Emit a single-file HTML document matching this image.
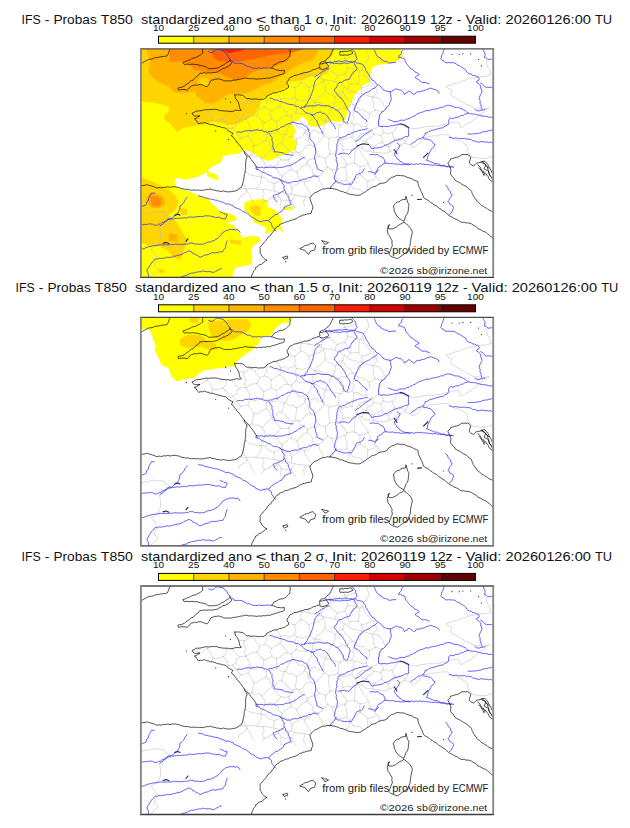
<!DOCTYPE html><html><head><meta charset="utf-8"><style>html,body{margin:0;padding:0;background:#fff;overflow:hidden}svg{display:block}</style></head><body>
<svg width="630" height="828" viewBox="0 0 630 828">
<defs>
<clipPath id="fc"><rect x="140.9" y="48.8" width="352.3" height="228.3"/></clipPath>
<g id="maplines" fill="none" stroke-linejoin="round" stroke-linecap="round"><g stroke="#bcbcbc" stroke-width="0.55"><polyline points="207.5,111.4 206.2,111.7 205.2,112.4 204.2,113.2 203.4,114.1 202.3,114.7 201.3,115.4 200.4,116.3 199.3,116.9 198.1,117.3 197.4,118.4 196.7,119.5 195.9,120.5"/><polyline points="207.5,111.4 208.4,112.4 209.2,113.5 210.1,114.4 210.5,115.7 210.9,117.0 211.9,118.0 212.2,119.2 212.4,120.6"/><polyline points="207.6,109.7 207.5,111.4"/><polyline points="212.4,120.6 212.5,122.0 211.6,123.2 211.6,124.5"/><polyline points="223.3,119.4 222.0,119.4 221.0,120.2 219.8,120.4 218.5,120.4 217.4,121.2 216.2,121.3 214.9,121.2 213.7,120.7 212.4,120.6"/><polyline points="223.3,119.4 223.9,120.8 225.5,121.0 225.8,122.6 227.1,123.2 227.3,124.5 227.6,125.8 228.7,126.8 228.7,128.2"/><polyline points="223.3,119.4 224.3,118.3 225.1,117.0 226.1,115.8 226.0,114.3 226.2,112.8 226.8,111.3"/><polyline points="228.7,128.2 227.4,129.7"/><polyline points="228.7,128.2 230.1,128.5 231.4,128.5 232.6,127.8"/><polyline points="231.2,111.4 232.1,112.4 233.3,113.1 234.3,114.0 235.1,115.1 235.8,116.3 236.7,117.4 237.9,118.1 238.8,119.2 240.0,119.8"/><polyline points="240.7,137.6 239.5,136.8 239.2,135.1 237.8,134.5 236.6,133.6 236.4,132.0 235.3,131.1 234.6,129.9 233.4,129.0 232.6,127.8"/><polyline points="232.6,127.8 233.6,127.0 234.8,126.5 236.1,126.0 236.4,124.6 236.5,123.1 236.6,121.6 237.9,121.2 239.1,120.8 240.0,119.8"/><polyline points="237.5,142.5 237.8,141.0 239.2,140.1 239.8,138.7 240.7,137.6"/><polyline points="244.1,103.5 242.7,103.1 241.3,103.2 239.9,103.3 238.5,103.0"/><polyline points="240.0,119.8 241.2,119.0 242.4,119.2 243.7,119.2 244.9,118.9 246.1,119.0"/><polyline points="247.9,136.0 246.7,136.2 245.6,136.9 244.4,137.1 243.1,136.8 241.9,137.6 240.7,137.6"/><polyline points="246.1,188.8 245.4,187.8 244.7,186.8 244.5,185.4 243.5,184.6 242.7,183.6"/><polyline points="244.1,103.5 244.2,104.9 243.1,106.1 243.3,107.6 244.8,108.4 245.1,110.2 246.5,111.1 245.6,112.4 244.9,113.8 244.3,115.3 245.1,116.5 245.7,117.7 246.1,119.0"/><polyline points="249.8,98.9 249.4,100.2 248.1,100.9 247.5,102.0 246.4,102.7 245.4,103.5 244.1,103.5"/><polyline points="261.3,176.9 259.8,176.8 258.4,176.2 256.9,176.6 255.6,176.1 254.3,175.6 252.8,175.4 251.3,175.5 250.2,174.4 248.7,174.2 247.6,173.2 246.4,172.4 244.9,172.2"/><polyline points="246.2,119.0 246.1,119.0"/><polyline points="250.7,130.7 250.9,129.2 249.6,128.1 249.7,126.6 249.5,125.2 248.8,124.0 248.0,122.8 247.6,121.4 246.6,120.3 246.2,119.0"/><polyline points="246.2,119.0 247.4,118.3 248.1,117.2 249.3,116.5 250.7,116.6 251.6,115.3 253.0,115.3 254.3,115.5 255.6,114.9 256.9,114.8"/><polyline points="251.9,154.9 250.8,155.6 249.5,156.2 248.2,156.7 246.9,157.0"/><polyline points="247.9,136.0 248.9,136.8 248.9,138.3 250.1,139.0 251.0,139.9 251.5,141.1 252.4,142.0 252.6,143.2 253.4,144.3 253.7,145.6"/><polyline points="247.9,136.0 249.0,134.9 249.1,133.2 249.6,131.9 250.7,130.7"/><polyline points="249.9,98.9 251.2,99.1 251.9,100.3 252.9,100.9 254.0,101.5 255.4,102.4 255.4,104.4 256.7,105.3 257.4,106.8 258.4,107.9 259.4,109.2"/><polyline points="250.7,130.7 252.1,130.7 253.3,131.8 254.7,131.8 256.2,131.9 257.2,130.4 258.7,130.5 260.0,130.4 261.3,130.0 262.7,130.2"/><polyline points="261.7,158.8 261.0,157.7 259.6,157.5 258.9,156.4 257.5,156.5 256.1,156.7 254.8,157.2 254.0,156.2 252.5,156.1 251.9,154.9"/><polyline points="253.7,145.6 253.8,147.2 253.5,148.8 252.8,150.2 252.9,151.9 252.6,153.4 251.9,154.9"/><polyline points="253.7,145.6 255.1,145.0 256.7,145.0 258.3,144.7 259.2,143.4 260.5,142.5 261.9,141.9 263.3,141.3 264.7,140.7 265.9,139.8"/><polyline points="256.6,189.0 257.7,188.0 258.2,186.7 258.5,185.2 259.3,184.0 260.4,183.0 261.0,181.7 260.8,180.1 261.7,178.7 261.4,177.2"/><polyline points="264.0,122.6 263.3,121.3 261.6,121.3 261.2,119.7 259.9,119.2 259.2,118.1 258.7,116.8 257.7,115.9 256.9,114.8"/><polyline points="256.9,114.8 257.8,113.9 258.1,112.7 258.5,111.5 259.4,110.5 259.4,109.2"/><polyline points="264.3,107.2 263.2,108.1 261.6,107.7 260.6,108.7 259.4,109.2"/><polyline points="261.4,177.2 261.3,176.9"/><polyline points="265.2,167.5 264.4,168.5 264.1,169.8 263.3,170.8 262.7,172.0 261.8,173.0 262.0,174.4 261.1,175.5 261.3,176.9"/><polyline points="261.4,177.2 262.6,177.2 263.9,177.0 265.2,177.6 265.7,178.8 266.5,179.8 267.6,180.7 269.1,181.5 270.6,182.6 272.4,182.7 274.0,183.8"/><polyline points="265.2,167.5 265.2,165.9 265.0,164.3 264.3,162.8 263.8,161.3 262.3,160.3 261.7,158.8"/><polyline points="272.3,149.3 270.9,150.4 269.4,151.4 268.1,152.6 267.0,154.1 265.4,155.0 264.5,156.6 263.1,157.8 261.7,158.8"/><polyline points="266.3,134.5 265.3,133.5 264.6,132.3 263.7,131.2 262.7,130.2"/><polyline points="264.0,122.6 263.7,123.8 263.5,125.1 263.6,126.4 263.0,127.6 263.4,129.1 262.7,130.2"/><polyline points="264.0,122.6 265.3,122.0 266.8,122.0 268.0,121.1 269.3,120.4 270.6,119.9 271.7,118.8"/><polyline points="271.2,111.0 270.0,110.4 268.9,109.6 268.2,108.3 267.0,107.7 265.4,108.1 264.3,107.2"/><polyline points="264.3,107.2 264.9,106.0 265.9,105.0 266.5,103.7 266.2,102.3 266.9,101.1 266.9,99.7 267.6,98.5 266.7,97.0 267.4,95.7"/><polyline points="274.7,167.0 273.4,167.0 272.2,166.7 271.2,165.8 269.9,166.0 268.6,166.1 267.6,166.9 266.2,166.6 265.2,167.5"/><polyline points="265.9,139.8 267.0,140.5 267.8,141.7 269.1,142.0 269.9,143.3 269.8,144.7 269.8,146.1 270.7,147.0 271.9,147.6 272.3,148.9"/><polyline points="265.9,139.8 266.2,138.5 266.5,137.2 266.7,135.8 266.3,134.5"/><polyline points="277.3,130.9 275.9,131.1 275.3,132.8 273.9,133.0 272.6,132.9 271.3,133.5 270.0,133.3 268.6,133.2 267.5,134.0 266.3,134.5"/><polyline points="271.2,111.0 271.5,112.4 270.5,113.6 270.3,115.0 270.9,116.2 271.7,117.4 271.7,118.8"/><polyline points="271.2,111.0 272.4,110.6 273.4,109.8 274.4,109.2 275.4,108.5 276.4,107.7 277.7,107.4 278.7,106.8 279.9,106.4"/><polyline points="271.7,118.8 272.6,119.9 273.8,120.6 275.3,120.8 276.5,121.6"/><polyline points="280.5,159.5 279.7,158.3 278.3,157.5 277.8,156.1 277.1,154.7 275.6,154.1 274.6,153.0 273.3,152.1 272.8,150.6 272.3,149.3"/><polyline points="272.3,149.3 272.3,148.9"/><polyline points="281.7,143.6 280.5,143.9 279.1,143.4 278.0,144.2 276.9,145.1 276.6,146.5 275.7,147.6 274.7,148.4 273.5,148.5 272.3,148.9"/><polyline points="274.0,183.8 273.7,185.1 274.3,186.2 274.6,187.5 274.0,188.7 273.9,190.0 274.5,191.2"/><polyline points="274.0,183.8 275.0,183.2 276.1,182.6 277.3,182.3 278.4,181.8 279.4,181.0 280.4,180.2 281.1,179.3 281.7,178.1"/><polyline points="274.7,167.0 275.7,167.9 276.3,169.1 277.5,169.8 278.6,170.9 278.2,172.5 279.1,173.7 279.9,174.7 281.4,175.1 282.1,176.4"/><polyline points="280.5,159.5 280.1,160.7 279.3,161.6 278.3,162.4 278.1,163.7 276.9,164.1 276.3,165.3 275.8,166.5 274.7,167.0"/><polyline points="280.3,99.2 280.3,97.7 278.8,96.6 278.7,95.1 277.6,94.1 276.3,93.2 275.0,92.6"/><polyline points="277.3,130.9 277.6,129.4 276.7,127.8 277.3,126.2 276.8,124.7 276.6,123.2 276.5,121.6"/><polyline points="276.5,121.6 277.7,120.8 279.0,120.1 280.5,119.9 281.1,118.4 282.5,117.6 283.6,116.5 284.9,115.8 286.5,115.8 287.9,115.5"/><polyline points="283.9,134.6 282.8,133.9 281.3,134.3 280.2,133.5 279.4,132.4 278.4,131.6 277.3,130.9"/><polyline points="279.9,106.4 281.1,107.1 282.2,107.9 283.3,108.8 283.8,110.0 285.2,110.8 285.5,112.2 286.6,113.1 286.9,114.5 287.9,115.5"/><polyline points="280.3,99.2 280.2,100.6 281.1,101.6 281.2,102.9 281.3,104.2 280.0,105.1 279.9,106.4"/><polyline points="280.3,99.2 281.6,99.3 282.7,98.9 283.7,98.1 285.2,98.2 286.5,98.7 287.5,99.8 289.3,99.4 291.0,99.2 292.1,98.6 293.3,98.1 294.4,97.6"/><polyline points="280.5,159.5 281.9,160.0 283.2,160.0 284.6,159.8 286.1,160.2 287.4,159.8 288.8,159.5"/><polyline points="281.7,178.1 282.3,179.2 282.5,180.5 283.5,181.4 284.9,181.6 286.3,181.6 287.6,182.3 289.2,183.2 290.3,184.7 291.1,185.7 291.0,187.2 291.9,188.2"/><polyline points="282.1,176.4 281.7,178.1"/><polyline points="281.7,143.6 282.6,144.5 283.6,145.3 284.9,145.6 285.8,146.6 286.5,147.8 286.9,149.1 288.0,149.7 289.1,150.4 289.7,151.7 290.7,152.6 292.3,152.3 293.4,153.1"/><polyline points="281.7,143.6 281.9,142.0 282.7,140.6 283.1,139.2 283.3,137.6 283.9,136.2 283.9,134.6"/><polyline points="282.1,176.4 282.6,175.1 283.7,174.2 284.7,173.4 286.0,173.0 287.2,172.4 287.9,171.3 288.8,170.1 290.5,170.4 291.4,169.4"/><polyline points="283.9,134.6 285.2,134.1"/><polyline points="296.3,139.1 295.0,138.7 294.3,137.2 292.9,136.8 291.4,137.2 289.9,136.3 288.4,136.8 287.4,135.9 286.7,134.5 285.2,134.1"/><polyline points="285.2,134.1 286.2,132.8 286.8,131.4 287.7,130.1 287.7,128.4 289.0,127.2 289.2,125.6 290.6,124.8 291.8,123.7 292.5,122.2"/><polyline points="287.9,84.8 289.0,85.4 290.3,85.6 291.2,86.5 292.2,87.4 293.5,87.4 294.7,87.5"/><polyline points="287.9,115.5 289.6,116.2 291.3,116.4"/><polyline points="288.8,159.5 288.6,160.8 289.4,162.0 289.8,163.2 289.6,164.6 289.5,166.0 291.0,166.8 291.2,168.1 291.4,169.4"/><polyline points="293.4,153.1 293.1,154.5 292.0,155.4 291.1,156.3 290.0,157.1 289.4,158.3 288.8,159.5"/><polyline points="291.9,188.2 291.6,189.4 292.1,190.7 291.4,191.8 291.5,193.1 290.8,194.2"/><polyline points="291.3,116.4 291.7,117.8 292.0,119.3 292.3,120.7 292.5,122.2"/><polyline points="291.3,116.4 292.1,115.5 293.3,115.1 294.0,114.0 295.2,113.6 295.8,112.4"/><polyline points="291.4,169.4 292.6,169.8 293.9,170.1 294.9,170.9 295.8,172.0 297.2,172.2"/><polyline points="291.9,188.2 292.9,187.4 293.4,186.2 294.5,185.5 295.5,184.6 296.7,184.1 298.1,184.0 298.8,182.9 299.7,182.1 300.3,180.9"/><polyline points="292.5,122.2 293.5,123.1 295.0,123.0 296.0,123.9 296.2,125.5 297.9,126.2 298.2,127.7 299.8,128.2 301.3,127.6 302.9,127.8 303.9,128.7 305.0,129.7 305.4,131.1"/><polyline points="293.4,153.1 294.6,152.2 296.2,152.0"/><polyline points="294.4,97.6 295.5,98.6 296.4,99.8"/><polyline points="294.4,97.6 295.3,96.5 294.6,95.0 295.5,93.9 295.8,92.6 295.0,91.4 294.8,90.1 295.1,88.7 294.7,87.5"/><polyline points="294.7,87.5 296.1,87.1 297.2,86.3 298.0,85.1 298.8,83.9 300.2,83.5 301.2,82.6"/><polyline points="295.8,112.4 297.1,112.8 298.3,113.3 299.6,113.7 300.9,113.7 302.2,114.0 303.5,114.0 304.8,114.4 306.1,113.7 307.4,113.8 308.7,113.8 310.0,113.9 311.3,114.1"/><polyline points="296.4,99.8 296.1,101.2 295.3,102.5 295.2,104.0 295.8,105.4 295.8,107.0 296.7,108.3 296.4,109.6 296.6,111.1 295.8,112.4"/><polyline points="296.2,152.0 297.4,152.1 298.6,152.5"/><polyline points="296.2,152.0 295.7,150.6 295.3,149.1 295.2,147.7 295.9,146.3 296.3,144.9 296.1,143.4 296.5,142.0 296.6,140.6 296.3,139.1"/><polyline points="296.3,139.1 297.4,138.3 298.8,138.7 299.9,137.8 300.6,136.8 301.6,136.2 302.8,135.7 303.8,134.8 303.9,133.4 304.9,132.6"/><polyline points="296.4,99.8 298.0,99.5 299.4,100.5 301.0,100.6 302.6,100.9 304.0,100.2 305.5,100.0 306.9,99.4 308.4,98.9 309.8,98.2"/><polyline points="297.2,172.2 297.6,173.7 297.9,175.2 298.6,176.6 298.6,178.2 300.2,179.3 300.3,180.9"/><polyline points="297.2,172.2 297.7,170.8 298.8,169.8 300.0,169.0 301.3,168.2 301.8,166.7 302.9,165.8 304.4,165.4 305.6,164.6 307.1,164.2"/><polyline points="298.6,152.5 299.3,153.8 300.0,155.2 300.5,156.6 301.8,156.7 303.0,157.0 304.0,157.7 305.1,158.3 306.2,159.3 307.1,160.5 307.4,162.0"/><polyline points="298.6,152.5 299.8,152.3 300.9,151.8 302.1,151.5 303.0,150.6 303.4,149.3 304.3,148.4 304.8,147.2 306.1,146.7 306.8,145.7 308.0,145.3 309.3,145.6 310.5,145.0"/><polyline points="300.3,180.9 301.7,181.1 303.1,181.4 304.4,182.1"/><polyline points="301.2,82.6 302.4,82.8 303.5,83.2 304.5,84.0 305.6,84.5 306.6,85.2 307.0,86.6 308.5,86.7 309.1,87.8"/><polyline points="301.6,74.8 301.3,76.2 300.7,77.4 300.2,78.6 300.0,80.1 300.5,81.3 301.2,82.6"/><polyline points="304.4,182.1 304.4,183.5 304.6,184.8 305.0,186.1 306.3,186.8 307.2,187.8 307.8,189.1 308.1,190.5 309.1,191.4 310.0,192.4 310.1,193.7 311.2,194.7 311.3,196.1"/><polyline points="304.4,182.1 305.8,181.3 307.3,181.2 308.8,181.0 309.6,179.6 310.3,178.1 311.6,177.1 313.1,176.9 314.5,176.4 315.7,175.4"/><polyline points="304.9,132.6 305.4,134.1 306.8,135.0 307.6,136.4 307.9,137.9 308.5,139.3 308.5,140.9 309.2,142.2 310.0,143.5 310.5,145.0"/><polyline points="305.4,131.1 304.9,132.6"/><polyline points="307.5,129.6 306.2,130.1 305.4,131.1"/><polyline points="307.1,164.2 308.3,164.7 309.0,165.8 310.0,166.4 311.0,167.9 312.4,169.0 312.7,170.4 312.0,171.9 312.6,173.3 313.7,173.8 314.8,174.4 315.7,175.4"/><polyline points="307.1,164.2 307.4,162.0"/><polyline points="319.2,155.8 318.3,157.1 316.7,157.5 315.9,158.9 314.6,159.0 313.3,158.4 312.1,159.4 310.8,159.0 309.4,159.7 308.2,160.6 307.4,162.0"/><polyline points="307.5,129.6 308.6,130.4 310.0,130.2 311.1,130.9 312.6,131.2 313.7,129.8 315.1,130.0 316.5,130.7 317.7,131.6 318.4,133.1 319.7,132.9 321.0,132.5 322.3,132.4"/><polyline points="311.5,114.5 312.0,115.8 311.4,117.2 311.6,118.6 311.3,119.9 310.2,120.9 309.5,122.1 309.0,123.3 308.4,124.5 307.5,125.6 308.1,126.9 307.4,128.3 307.5,129.6"/><polyline points="309.1,87.8 309.0,89.2 309.7,90.4 308.9,91.8 309.6,93.0 310.2,94.3 310.1,95.6 309.6,96.9 309.8,98.2"/><polyline points="323.3,80.9 322.0,81.6 320.9,82.3 320.2,83.6 319.0,84.2 317.7,84.3 316.5,85.0 315.4,85.9 313.8,85.3 312.6,86.1 311.4,86.5 310.1,86.8 309.1,87.8"/><polyline points="309.8,98.2 311.0,98.9 311.8,100.0 312.7,101.1 314.3,101.4 314.9,102.7"/><polyline points="310.5,145.0 311.8,145.8 313.2,146.1 314.7,146.3"/><polyline points="311.5,114.5 311.3,114.1"/><polyline points="311.3,114.1 312.3,113.0 312.7,111.7 313.3,110.5 312.7,109.1 312.5,107.7 312.8,106.2 313.9,105.3 314.1,103.8 314.9,102.7"/><polyline points="325.5,120.7 324.1,120.8 322.9,120.4 321.7,119.7 320.7,119.0 319.7,118.1 318.3,117.9 317.4,117.0 316.6,115.9 315.2,115.5 313.9,115.4 312.7,115.0 311.5,114.5"/><polyline points="319.2,155.8 318.1,154.4 317.4,152.8 316.9,151.0 315.8,149.6 315.0,148.0 314.7,146.3"/><polyline points="324.1,136.0 322.6,136.8 322.2,138.5 321.1,139.6 319.9,140.5 319.1,141.9 317.9,142.9 316.5,143.8 315.8,145.2 314.7,146.3"/><polyline points="314.9,102.7 315.5,102.5"/><polyline points="315.5,102.5 317.0,102.3 318.4,102.3 319.9,102.5 321.4,102.9 322.1,104.5 323.5,105.1 324.8,105.5 326.2,105.8 327.6,105.9 328.9,106.6 330.3,106.9 331.5,107.6"/><polyline points="325.0,90.5 324.4,91.7 323.8,92.8 322.7,93.6 322.3,94.9 321.3,95.7 320.3,96.6 319.1,97.2 318.0,98.0 317.0,98.8 316.2,99.9 315.8,101.2 315.5,102.5"/><polyline points="315.7,175.4 317.4,175.1 318.9,175.9"/><polyline points="323.8,189.1 323.1,187.4 322.3,185.9 321.9,184.1 321.0,182.6 319.6,181.4 319.1,179.5 319.1,178.3 318.5,177.1 318.9,175.9"/><polyline points="318.9,175.9 319.8,174.7 321.2,174.4 322.3,173.6 322.9,172.3 323.6,171.2 324.7,170.4 325.8,169.5 326.4,168.3 327.4,167.4"/><polyline points="319.2,155.8 320.3,156.8 321.6,157.2 322.9,157.6 324.4,157.6 325.6,158.2"/><polyline points="322.3,132.4 322.5,133.8 323.9,134.6 324.1,136.0"/><polyline points="325.7,121.4 324.7,122.3 325.0,123.9 323.9,124.8 323.8,126.1 324.4,127.5 323.8,128.8 323.6,130.1 322.8,131.2 322.3,132.4"/><polyline points="323.3,80.9 323.5,82.1 324.2,83.2 325.0,84.3 325.1,85.5 325.1,86.8 325.1,88.0 325.6,89.3 325.0,90.5"/><polyline points="323.8,79.5 323.3,80.9"/><polyline points="329.4,138.6 328.2,137.7 326.8,137.1 325.6,136.2 324.1,136.0"/><polyline points="325.0,90.5 325.7,91.7 326.6,92.8 327.6,93.8 329.1,93.6 330.3,94.7 331.7,94.7 332.9,95.3 333.8,96.3 334.8,97.2"/><polyline points="325.5,120.7 325.7,121.4"/><polyline points="325.5,120.7 326.5,119.9 326.2,118.4 327.3,117.6 327.8,116.5 327.7,115.2 328.5,114.2 329.3,113.1 329.6,112.0 329.4,110.6 330.3,109.8 331.2,108.9 331.5,107.6"/><polyline points="325.6,158.2 325.5,159.8 325.4,161.4 325.8,163.0 325.9,164.6 327.2,165.8 327.4,167.4"/><polyline points="329.8,154.3 328.6,155.1 328.0,156.5 326.7,157.3 325.6,158.2"/><polyline points="325.7,121.4 326.9,122.0 328.2,122.1 329.4,121.8 330.8,121.9 331.9,122.6 332.9,123.5 334.2,123.3 335.2,124.3 336.5,124.4 337.7,124.4 338.9,125.3 340.2,124.9"/><polyline points="327.4,167.4 329.0,167.8 330.0,169.3 331.7,169.5"/><polyline points="329.4,138.6 328.7,139.9 329.3,141.3 328.8,142.6 328.4,143.9 328.4,145.2 328.9,146.5 328.9,147.8 329.0,149.1 329.4,150.4 329.9,151.6 329.7,153.0 329.8,154.3"/><polyline points="337.9,136.5 336.5,137.0 335.1,137.6 333.6,137.3 332.0,137.2 330.7,137.8 329.4,138.6"/><polyline points="340.7,153.3 339.5,153.4 338.2,153.2 337.1,154.0 335.9,153.9 334.7,153.6 333.4,153.9 332.2,153.6 331.1,154.6 329.8,154.3"/><polyline points="330.8,188.5 332.1,187.6 333.0,186.2 333.6,184.7 334.8,183.6 334.9,181.7 336.0,180.5"/><polyline points="333.0,106.9 331.5,107.6"/><polyline points="336.0,180.5 336.2,179.1 335.9,177.8 335.3,176.6 334.3,175.6 333.6,174.4 332.6,173.4 332.2,172.1 332.5,170.7 331.7,169.5"/><polyline points="344.9,166.8 343.4,167.0 342.1,167.9 340.5,167.5 339.3,168.7 337.7,169.0 336.3,169.7 334.8,169.7 333.2,170.1 331.7,169.5"/><polyline points="338.7,109.8 337.5,109.4 336.3,108.9 335.2,108.3 334.1,107.6 333.0,106.9"/><polyline points="334.8,97.2 335.5,98.5 335.3,99.8 334.8,101.1 335.2,102.3 334.2,103.2 333.8,104.5 334.0,106.0 333.0,106.9"/><polyline points="342.8,92.1 341.5,92.2 340.4,92.6 339.3,93.2 338.3,93.9 337.6,95.0 336.6,95.6 335.7,96.5 334.8,97.2"/><polyline points="346.6,180.3 345.5,181.1 344.1,180.7 343.1,181.7 342.0,181.1 340.9,180.5 339.5,180.4 337.8,181.0 336.0,180.5"/><polyline points="337.9,136.5 339.2,137.7 340.7,138.6"/><polyline points="340.2,124.9 339.9,126.2 339.1,127.4 338.6,128.6 338.6,129.9 338.8,131.3 338.8,132.6 338.7,134.0 338.0,135.2 337.9,136.5"/><polyline points="338.7,109.8 338.4,111.4 339.5,112.8 339.2,114.4 339.8,115.5 340.9,116.1 341.5,117.2 342.3,118.1 342.8,119.5 343.4,120.9 343.2,122.5"/><polyline points="338.7,109.8 340.1,109.5 340.9,108.3 341.9,107.6 343.3,108.3 344.9,108.0 346.3,108.3 347.7,107.8 348.3,106.4 349.3,105.5 350.4,104.8 351.6,104.3 352.9,104.3"/><polyline points="343.2,122.5 342.5,123.7 341.5,124.5 340.2,124.9"/><polyline points="346.6,164.8 346.5,163.3 345.2,162.2 345.1,160.7 344.5,159.3 342.9,158.7 342.3,157.3 341.5,156.1 341.0,154.7 340.7,153.3"/><polyline points="342.9,150.1 342.4,151.3 341.5,152.3 340.7,153.3"/><polyline points="342.9,150.1 342.6,148.8 342.4,147.5 343.0,146.1 342.3,144.8 340.8,144.1 340.3,142.7 340.4,141.3 341.0,140.0 340.7,138.6"/><polyline points="351.9,137.2 350.7,137.8 349.3,137.3 348.2,138.2 347.1,139.0 345.7,138.4 344.6,139.2 343.2,139.4 341.9,139.2 340.7,138.6"/><polyline points="342.8,92.1 343.2,93.4 344.5,94.3 344.7,95.6 345.4,96.9 346.5,97.6 347.5,98.5 348.3,99.7 349.6,100.2 350.8,100.9 351.4,102.1 351.8,103.4 352.9,104.3"/><polyline points="342.8,92.1 343.3,90.7 343.1,89.1 344.1,87.9 344.3,86.4"/><polyline points="342.9,150.1 344.4,150.4 345.7,149.6 347.1,149.1 348.5,149.6 350.0,149.2 351.4,149.5 352.7,148.7 354.1,148.4 355.6,148.7"/><polyline points="351.8,122.6 350.5,123.3 349.0,123.7 347.5,123.9 346.0,123.6 344.7,122.8 343.2,122.5"/><polyline points="346.6,180.3 346.9,178.8 347.1,177.3 346.7,175.7 346.8,174.2 346.3,172.7 346.2,171.2 345.7,169.8 344.9,168.4 344.9,166.8"/><polyline points="346.6,164.8 346.2,166.2 344.9,166.8"/><polyline points="345.8,192.8 346.5,191.5 348.1,191.0 348.8,189.6 349.1,188.1 349.2,186.6 350.1,185.3"/><polyline points="354.9,163.7 353.5,163.3 352.1,162.9 350.6,163.4 349.3,163.8 347.7,163.8 346.6,164.8"/><polyline points="349.9,183.2 348.8,182.3 347.5,181.5 346.6,180.3"/><polyline points="350.1,185.3 349.9,183.2"/><polyline points="360.3,175.3 358.9,175.9 357.8,176.9 357.0,178.2 355.5,178.4 354.4,179.5 353.1,180.2 352.1,181.3 351.0,182.2 349.9,183.2"/><polyline points="363.5,192.9 362.5,192.0 361.8,190.8 360.7,190.0 359.4,189.4 358.1,189.1 356.6,189.4 355.4,188.8 354.2,188.3 352.9,188.3 352.2,187.0 351.3,186.0 350.1,185.3"/><polyline points="353.9,124.6 353.0,123.5 351.8,122.6"/><polyline points="355.9,106.6 355.6,108.1 353.9,108.8 353.7,110.3 353.2,111.6 353.5,113.1 352.8,114.3 352.7,115.6 354.0,116.5 353.8,117.8 354.2,118.9 353.5,120.2 352.8,121.5 351.8,122.6"/><polyline points="355.0,140.8 353.7,139.8 352.5,138.7 351.9,137.2"/><polyline points="353.9,124.6 353.7,126.0 353.9,127.4 353.6,128.8 353.3,130.3 353.1,131.7 353.7,133.2 352.6,134.3 352.2,135.7 351.9,137.2"/><polyline points="352.9,104.3 354.0,105.0 355.3,105.1"/><polyline points="366.2,126.3 364.8,126.4 363.4,126.6 362.0,126.8 361.1,125.9 359.8,125.6 359.1,124.6 358.2,123.8 356.9,124.5 355.3,123.8 353.9,124.6"/><polyline points="360.2,166.7 359.1,166.1 357.9,165.9 357.3,164.4 356.0,164.2 354.9,163.7"/><polyline points="355.6,148.7 355.3,149.9 355.2,151.2 354.7,152.4 355.1,153.7 354.4,154.9 354.4,156.1 354.9,157.4 354.7,158.7 354.5,159.9 354.2,161.2 354.3,162.5 354.9,163.7"/><polyline points="355.3,105.1 355.9,106.6"/><polyline points="355.3,105.1 356.8,104.5 357.4,102.8 358.8,102.1 359.6,101.1 359.8,99.9 360.4,98.8 360.2,97.5 361.7,96.9 362.5,95.5 363.7,94.4"/><polyline points="357.5,146.6 356.7,147.8 355.6,148.7"/><polyline points="355.9,106.6 356.8,107.6 358.1,108.1 358.8,109.4 360.1,109.4 361.5,109.1 362.9,109.6 364.0,110.1 364.9,111.2 366.2,111.3 367.0,112.5 368.0,113.2 369.4,113.5"/><polyline points="360.2,166.7 359.7,168.1 359.9,169.6 359.6,171.0 359.4,172.5 360.5,173.8 360.3,175.3"/><polyline points="368.1,163.1 367.2,164.4 365.8,165.0 364.5,165.8 363.2,166.6 361.6,166.1 360.2,166.7"/><polyline points="360.3,175.3 361.3,176.1 362.4,176.5 363.4,177.3 364.6,177.6 365.2,178.7 366.0,179.7 367.1,180.4 367.8,181.4"/><polyline points="370.0,130.8 369.1,129.6 367.9,128.7 367.1,127.4 366.2,126.3"/><polyline points="366.2,126.3 366.7,124.8 365.7,123.3 366.2,121.7 366.6,120.4 367.8,119.8 368.7,119.0 369.6,118.1 369.5,116.5 369.3,115.0 369.4,113.5"/><polyline points="367.8,181.4 367.7,182.9 367.5,184.4 367.1,185.9 367.6,187.4 366.9,188.9 367.0,190.5"/><polyline points="376.7,177.0 375.4,177.5 374.7,178.7 373.9,179.6 372.8,180.2 371.5,180.3 370.2,180.3 369.2,181.5 367.8,181.4"/><polyline points="375.7,110.3 373.9,110.7 372.7,112.1 370.9,112.4 369.4,113.5"/><polyline points="371.3,96.5 372.3,97.4 372.7,98.6 372.7,99.8 373.0,101.0 373.4,102.1 373.9,103.3 373.7,104.5 373.5,105.8 373.7,107.1 374.0,108.4 375.1,109.1 375.7,110.3"/><polyline points="382.7,111.8 381.5,111.3 380.3,111.9 379.1,111.5 378.1,110.7 376.9,110.4 375.7,110.3"/><polyline points="238.8,200.3 238.8,198.8 239.5,197.5 240.5,196.5 242.0,196.2 243.0,194.9 244.4,194.6 245.3,193.5 246.3,192.6 246.7,191.2"/><polyline points="246.7,191.2 247.5,192.2 248.4,193.1 249.4,193.9 250.3,194.9 250.4,196.2 251.0,197.3 251.0,198.7 251.7,199.8 252.1,201.1 252.9,202.1 253.7,203.0 254.8,203.8"/><polyline points="246.7,188.8 246.9,190.0 246.7,191.2"/><polyline points="264.3,200.8 263.6,201.8 263.1,203.0 262.5,204.1 261.7,205.1"/><polyline points="262.3,189.2 263.0,190.4 263.3,191.8 264.1,192.9 263.9,194.4 262.9,195.7 262.5,197.1 262.8,198.5 263.5,199.6 264.3,200.8"/><polyline points="278.6,196.2 277.3,196.3 276.4,197.4 275.0,197.4 273.7,197.3 272.3,197.8 271.0,197.2 270.5,198.6 268.7,199.1 268.1,200.5 266.8,200.3 265.6,201.2 264.3,200.8"/><polyline points="278.6,196.2 279.7,196.9 280.4,197.9 280.3,199.4 281.3,200.2"/><polyline points="279.1,192.1 278.9,193.5 278.4,194.8 278.6,196.2"/><polyline points="281.3,200.2 280.7,201.4 281.2,202.8 280.5,204.0 280.1,205.2 280.5,206.5 280.2,207.8"/><polyline points="281.3,200.2 282.7,200.0 283.9,200.4 285.1,201.1 286.4,200.9 287.7,200.4 289.0,200.5 290.2,200.6 291.5,200.9"/><polyline points="295.3,207.8 294.7,206.5 293.9,205.5 292.7,204.7 292.7,203.3 291.8,202.2 291.5,200.9"/><polyline points="295.2,195.0 294.4,196.1 293.7,197.3 292.9,198.4 292.2,199.6 291.5,200.9"/><polyline points="305.4,196.7 304.8,197.7 305.1,199.1 303.9,200.0 303.7,201.2 303.8,202.4 303.7,203.6 304.4,204.8 304.4,206.0"/><polyline points="308.8,71.6 308.6,73.0 309.1,74.3 309.0,75.7"/><polyline points="318.0,68.1 319.4,68.8 320.7,69.5 322.0,70.2 322.9,71.5"/><polyline points="321.2,78.8 321.6,77.6 321.7,76.3 321.9,75.1 322.3,73.9 322.3,72.6 322.9,71.5"/><polyline points="329.8,68.5 328.7,69.4 327.5,69.6 326.2,69.6 325.3,70.6 324.1,71.1 322.9,71.5"/><polyline points="331.0,62.6 330.5,61.2 329.4,60.3 328.8,59.1 327.8,58.1"/><polyline points="329.8,68.5 330.6,69.5 331.5,70.3 331.7,71.6 332.9,72.2 333.7,73.2 335.0,73.3 335.9,75.0 337.4,75.9"/><polyline points="331.0,62.6 330.6,63.7 330.5,64.9 329.8,66.1 330.3,67.4 329.8,68.5"/><polyline points="331.0,62.6 332.9,62.3 334.3,61.0 335.5,61.5 337.0,60.9 338.2,61.7 339.9,61.1 341.4,60.2 342.4,59.5 343.4,58.8 344.6,58.4"/><polyline points="337.4,75.9 336.7,77.1 336.0,78.2 335.6,79.4 335.0,80.6 334.9,82.0"/><polyline points="337.4,75.9 338.7,75.2 340.1,75.1 341.5,75.0 342.7,73.9 344.2,74.1"/><polyline points="341.8,48.8 342.7,49.9 342.5,51.2 343.0,52.4 343.1,53.6 343.3,54.9 344.0,56.0 344.6,57.1 344.6,58.4"/><polyline points="350.8,84.3 349.4,83.7 348.8,82.3 347.7,81.4 347.6,79.9 346.9,78.5 347.2,77.0 346.1,76.1 345.5,74.7 344.2,74.1"/><polyline points="344.2,74.1 345.3,73.2 345.3,71.6 346.8,71.0 347.1,69.5 347.9,68.5"/><polyline points="344.6,58.4 345.5,59.1"/><polyline points="345.5,59.1 346.2,60.2 345.9,61.5 346.0,62.7 346.5,63.9 347.0,65.0 347.3,66.1 347.3,67.4 347.9,68.5"/><polyline points="345.5,59.1 346.6,58.4 347.8,58.0 349.2,57.8 350.1,56.8 351.4,56.7 352.5,56.0 353.9,56.5 355.1,55.7"/><polyline points="347.4,88.8 348.0,87.5 349.1,86.5 349.7,85.2 350.8,84.3"/><polyline points="360.7,70.6 359.2,70.8 357.8,69.9 356.3,70.3 355.1,69.4 353.9,68.5 352.3,68.3 350.8,68.0 349.4,68.5 347.9,68.5"/><polyline points="358.1,84.0 356.9,84.1 355.7,83.8 354.4,83.8 353.2,83.8 352.1,84.7 350.8,84.3"/><polyline points="361.8,87.3 360.9,86.5 360.0,85.6 359.2,84.7 358.1,84.0"/><polyline points="358.1,84.0 358.7,82.5 359.1,81.1 358.9,79.5 358.8,77.9 359.1,76.4 358.5,74.8 359.7,73.7 359.5,71.8 360.7,70.6"/><polyline points="362.8,69.3 361.4,69.5 360.7,70.6"/><polyline points="361.8,93.9 361.6,92.6 361.9,91.3 362.4,90.0 361.3,88.7 361.8,87.3"/><polyline points="370.9,84.2 369.9,84.9 368.8,85.5 367.5,85.9 366.8,87.1 365.5,86.6 364.3,87.0 363.0,87.2 361.8,87.3"/><polyline points="373.4,97.0 374.4,96.2 374.7,94.8 375.6,93.9 376.3,92.8"/><polyline points="359.1,135.9 359.8,137.3 360.6,138.6 361.7,139.8 362.9,140.9 364.5,141.1 366.0,141.6"/><polyline points="361.9,148.9 362.5,147.6 362.6,146.2 363.7,145.2 364.6,144.1 365.0,142.7 366.1,141.8"/><polyline points="366.0,141.6 366.1,141.8"/><polyline points="373.6,133.9 373.1,135.1 372.3,136.1 371.8,137.2 370.5,137.4 369.2,137.8 367.9,138.4 367.1,139.3 366.9,140.7 366.0,141.6"/><polyline points="373.1,146.7 372.0,145.8 370.5,145.4 369.6,144.1 368.6,143.1 367.3,142.6 366.1,141.8"/><polyline points="372.0,129.7 373.0,130.9 373.0,132.5 373.6,133.9"/><polyline points="373.9,152.2 373.4,150.8 373.7,149.4 373.7,148.0 373.1,146.7"/><polyline points="381.8,142.2 380.7,142.7 379.4,142.8 378.4,143.6 377.4,144.3 376.4,145.1 375.2,145.4 374.0,145.8 373.1,146.7"/><polyline points="373.6,133.9 374.8,134.5 376.0,134.0 377.2,134.3 378.4,134.9 379.5,135.5 380.8,135.2"/><polyline points="380.8,135.2 380.9,136.5 381.8,137.5 382.2,138.6 382.4,139.8 381.4,140.9 381.8,142.2"/><polyline points="383.3,132.4 382.7,133.6 381.4,134.1 380.8,135.2"/><polyline points="388.3,146.8 387.1,146.2 385.8,145.6 384.4,145.5 383.9,144.1 383.1,142.9 381.8,142.2"/><polyline points="383.3,132.4 382.7,131.1 383.2,129.7 382.4,128.4 382.0,127.1 382.3,125.7"/><polyline points="383.3,132.4 384.8,132.7 386.2,133.4 387.8,133.4 389.3,133.7 390.8,132.6 392.3,133.0"/><polyline points="388.3,146.8 388.5,148.2 388.9,149.4 389.3,150.7 389.4,152.0"/><polyline points="394.3,139.3 394.1,140.6 393.4,141.6 392.7,142.6 391.7,143.4 391.1,144.5 390.2,145.2 389.4,146.2 388.3,146.8"/><polyline points="392.3,133.0 393.0,134.2 392.7,135.6 393.4,136.8 393.9,138.1 394.3,139.3"/><polyline points="392.3,133.0 393.0,131.9 394.0,131.1 394.9,130.2 395.2,128.9 395.5,127.6 396.8,126.9 397.3,125.8 397.8,124.6"/><polyline points="394.3,139.3 395.7,139.3 396.9,139.8 398.1,140.2 399.6,140.4 400.9,139.8 402.2,139.4 403.3,140.3 404.6,140.9 405.8,141.5"/><polyline points="237.1,190.2 239.3,189.7 241.4,188.8 243.6,188.7 245.7,189.0 247.8,188.5 250.0,188.8 252.0,188.7 254.1,188.5 256.1,188.5 258.2,189.6 260.2,189.4 262.3,189.4 264.3,189.3 266.4,189.3 268.3,190.0 270.3,190.4 272.3,190.6 274.3,191.0 276.3,191.5 278.2,192.4 280.2,192.8 282.4,192.3 284.3,193.1 286.6,193.0 288.8,194.0 291.1,194.1 293.3,194.7 295.5,195.2 297.7,195.9 300.0,195.8 301.9,196.5 304.0,196.3 306.0,196.6 308.0,197.3 310.0,197.4"/><polyline points="380.0,183.8 379.4,181.3 378.6,178.8 376.6,177.7 375.0,176.1 373.9,174.1 372.0,172.8 371.1,170.8 370.8,168.7 369.5,166.8 368.8,164.8 368.0,162.8 367.0,161.1 365.8,159.4 364.5,157.9 363.1,156.5 362.0,154.8 361.4,152.8 360.2,151.1 358.9,149.6 357.9,147.8 357.1,145.9 356.4,143.2 355.0,140.8 356.8,138.9 358.2,136.7 360.0,134.8 362.0,134.0 364.0,133.1 366.1,132.7 368.0,131.7 370.0,130.8 372.1,129.5 374.3,128.3 376.7,127.5 378.6,125.9 378.8,123.6 379.0,121.3 379.4,119.1 380.2,116.8 380.0,114.5 381.2,112.8 382.7,111.5 384.5,110.4 385.7,108.8 384.3,106.9 383.5,104.8 382.7,102.6 381.0,100.9 380.0,98.8 378.0,97.9 375.7,97.8 373.6,97.1 371.4,96.4 369.2,96.3 367.1,95.5 365.0,94.8 362.8,94.3 360.8,93.3 358.4,93.6 356.5,92.3 354.2,92.3 352.1,91.6 350.0,90.8 348.0,89.9 346.5,88.5 345.0,87.0 343.1,86.0 341.4,84.7 340.0,83.1 337.8,83.0 335.6,82.6 333.7,81.3 331.5,80.9 329.3,80.8 327.2,80.2 325.0,79.8 322.8,79.6 320.8,78.3 318.6,78.1 316.5,77.4 314.4,76.5 312.2,76.0 310.0,75.8 307.7,75.5 305.5,74.9 303.2,74.8 300.9,74.4 298.6,74.5"/><polyline points="140.9,213.8 143.2,213.8 145.3,212.9 147.6,213.1 149.9,212.6 152.0,211.6 154.3,211.7 156.3,211.7 158.3,212.3 160.3,212.1 162.3,212.2 164.3,212.4 165.7,215.9 167.7,216.3 169.4,217.7 171.4,218.1 169.3,219.2 167.5,220.8 165.2,221.7 163.1,222.8 161.4,224.5 160.0,225.9 159.7,228.2 160.3,230.5 160.5,232.8 160.6,235.1 160.7,237.4 160.1,239.8 158.9,242.0 158.6,244.5 156.8,245.6 154.8,246.4 153.3,247.9 151.4,248.8 152.2,250.8 153.6,252.3 155.2,253.7 156.1,255.6 157.1,257.4 156.6,259.6 155.5,261.6 154.8,263.7 154.3,265.9 156.5,267.7 158.6,269.5 156.8,271.1 154.8,272.5 153.3,274.5 151.4,275.9 150.0,277.1"/><polyline points="446.4,86.7 448.1,88.3 450.1,89.1 452.1,90.2 451.2,92.3 450.7,94.5 452.2,96.0 454.1,96.8 455.7,98.2 457.6,99.0 459.3,100.2 461.0,101.4 462.8,102.4 464.8,103.1 466.4,104.5 468.5,105.0 470.4,106.1 472.1,107.4 474.0,108.0 476.0,108.3 478.1,108.1 480.0,108.8 482.3,109.0 484.6,108.8 486.8,108.5 489.0,107.8"/><polyline points="446.4,86.7 448.4,85.6 450.8,85.5 452.7,84.1 454.8,83.4 457.2,83.1 459.3,82.4 461.4,81.9 463.2,80.6 465.3,80.3 467.2,79.1 469.3,78.8 471.4,78.1 473.6,77.9 475.9,77.7 477.9,76.7 480.3,76.8 482.6,76.4 485.0,76.7 487.8,75.7 490.7,75.2 490.4,73.0 489.9,70.9 489.3,68.8 487.9,67.1 487.0,65.2 486.4,63.1 487.0,59.8"/><polyline points="405.0,126.7 407.1,127.5 409.3,127.9 411.4,128.3 413.6,128.8 415.8,128.8 417.9,128.4 420.0,127.9 422.1,127.4 424.4,127.0 426.7,126.7 429.0,126.5 431.3,126.5 433.6,126.7 435.7,126.1 437.9,126.3 440.0,125.5 442.1,125.3 444.2,124.6 446.4,124.5 448.5,124.4 450.3,123.2 452.3,122.6 454.4,122.3 456.4,121.7 459.3,123.1 459.6,125.4 460.7,127.4 462.8,126.9 464.5,125.8 466.1,124.2 468.1,123.6 470.0,122.8 471.8,121.6 473.2,120.0 475.1,118.9 476.8,117.6 478.1,115.8 480.0,114.8 482.1,113.8 483.7,112.1 485.3,110.5 486.9,108.9 489.0,107.8"/><polyline points="405.0,143.1 407.2,144.1 409.5,144.9 411.3,146.5 413.6,147.4 415.5,146.0 417.4,144.5 419.3,143.1 420.5,141.0 422.3,139.4 423.6,137.4 425.7,137.5 427.7,137.2 429.5,136.0 431.6,136.2 433.6,135.9 435.7,135.8 437.7,135.9 439.7,134.8 441.7,134.8 443.8,134.6 445.9,135.2 447.9,134.5 449.1,136.2 450.7,137.4 452.5,138.6 454.5,139.3 456.6,140.0 458.7,140.7 460.6,141.6 462.6,142.5 464.3,143.9 466.4,144.5 467.3,146.8 467.8,149.2 467.9,151.7 469.3,153.6 471.0,155.3 472.1,157.4 474.3,157.6 476.4,157.7 478.5,158.2 480.7,158.6 482.9,158.3 485.0,158.8 487.1,158.2 489.1,157.2 491.2,156.6 493.2,155.9"/><polyline points="357.1,145.9 359.0,147.2 361.3,148.0 363.2,149.2 365.0,150.8 367.2,151.1 369.4,151.3 371.5,151.9 373.7,152.1 375.8,152.4 378.0,152.8 380.0,152.4 382.0,153.3 384.0,153.0 386.0,153.1 388.0,152.8 389.5,151.4 391.6,151.0 393.4,150.1 395.0,148.8 397.2,148.1 398.8,146.1 400.8,145.0 402.8,143.9 405.0,143.1 405.8,141.2 406.4,139.3 408.0,137.9 408.6,135.9"/><polyline points="400.0,124.5 402.5,125.6 405.0,126.7"/><polyline points="367.0,50.8 367.4,53.2 368.8,55.3 369.0,57.8 367.6,60.4 366.0,62.8 364.4,64.3 363.3,66.1 362.0,67.8 363.4,70.0 363.9,72.5 365.0,74.8 366.1,76.7 367.7,78.1 368.9,79.9 370.2,81.5 372.0,82.8 373.4,84.7 374.4,86.8 375.9,88.6 376.6,90.9 378.0,92.8"/></g><g stroke="#2626ff" stroke-width="0.72"><polyline points="230.0,58.8 230.7,60.2 231.8,61.3 233.5,61.8 234.3,63.1 236.0,63.4 237.8,63.1 239.5,63.4 241.2,63.4 242.9,63.8 244.2,64.9 246.0,65.3 247.1,66.7 248.9,66.4 250.6,67.1 252.2,67.9 253.9,68.3 255.7,68.1 257.4,68.4 259.1,67.6 260.9,68.4 262.6,68.2 264.3,68.1 266.1,68.1 267.9,67.8 269.6,68.0 271.4,68.1"/><polyline points="208.6,51.7 210.7,52.6 212.9,52.4 214.2,51.4 215.5,50.2 217.1,49.5 219.0,49.7 220.9,50.4 222.9,50.2 223.6,51.6 225.0,52.3 225.9,53.6 227.1,54.5 227.4,56.2 228.7,57.3 229.5,58.7 230.0,60.2"/><polyline points="270.0,98.3 271.8,98.2 273.2,99.3 274.8,99.9 276.6,99.9 278.1,100.5 279.6,101.4 281.4,101.4 282.8,102.1 284.3,102.5 285.7,103.0 287.0,103.8 288.5,104.1 290.0,104.5 291.9,104.5 293.7,105.0 295.3,106.1 297.1,106.4 298.7,106.6 299.9,107.8 301.4,108.3 302.4,109.6 303.6,110.7 304.6,111.9 306.0,112.8 307.5,113.2 309.1,113.4 310.4,114.7 312.0,114.8 312.9,116.1 314.0,117.2 314.7,118.6 315.8,119.8 317.0,120.8 317.4,122.3 317.6,123.9 318.9,125.2 319.0,126.8 320.2,128.0 320.5,129.6 321.7,130.8 322.3,132.4 323.0,133.8"/><polyline points="312.0,114.8 313.8,114.7 315.3,113.8 316.7,112.6 318.5,112.7 320.0,111.8 321.5,112.4 322.7,113.5 324.5,113.3 325.7,114.5 326.9,115.9 328.2,117.1 329.0,118.7 330.0,120.2 330.7,121.8 331.8,123.2 332.9,124.5 334.1,125.7 334.9,127.3 335.7,128.8"/><polyline points="301.4,107.1 303.2,107.2 304.9,106.9 306.5,106.1 308.3,106.0 310.0,105.9 311.7,105.8 313.3,105.8 315.0,106.0 316.6,105.2 318.3,104.8 320.0,105.2 321.7,105.8 323.4,105.8 325.1,105.9 326.9,105.7 328.6,105.9 330.1,106.4 331.2,107.8 333.1,107.6 334.3,108.8 335.7,109.9 337.3,110.6 338.6,111.7 339.9,113.0 340.9,114.4 341.8,116.0 342.9,117.4 343.4,118.8 343.3,120.4 344.3,121.7 345.7,123.1"/><polyline points="320.0,75.8 319.1,77.0 318.0,78.1 316.8,79.1 315.7,80.2 315.1,81.6 314.3,82.9 314.3,84.5 313.6,86.4 313.6,88.3 312.9,90.2 312.3,91.7 311.9,93.3 311.3,94.8 310.7,96.3 310.0,97.8 309.3,99.2 308.4,100.6 307.5,101.9 307.2,103.5 306.2,104.8 304.8,105.8 304.3,107.4"/><polyline points="354.3,63.1 354.9,64.6 355.2,66.2 356.7,67.2 357.1,68.8 356.2,70.1 354.9,71.2 353.4,71.9 352.9,73.7 351.4,74.5 351.2,76.0 350.0,77.2 350.0,78.8 348.6,79.5 347.1,79.7 345.6,80.0 344.1,80.5 342.9,81.4 341.6,82.4 339.9,82.3 338.6,83.1 337.6,84.5 337.1,86.1 336.4,87.6 334.9,88.6 334.3,90.2 335.1,91.7 336.3,92.9 337.1,94.5 338.4,95.5 339.2,97.0 341.0,97.5 341.6,99.2 342.9,100.2 343.4,101.7 344.6,102.9 345.2,104.4 345.7,106.0 346.8,107.2 347.1,108.8 348.3,110.0 349.4,111.4 350.0,113.1 349.9,114.9 349.1,116.6 348.7,118.4 348.6,120.2 347.5,121.4 347.1,123.1"/><polyline points="328.6,68.8 326.9,69.0 325.5,69.8 324.3,70.9 322.7,71.3 321.5,72.6 320.0,73.1 318.9,74.2 317.7,75.2 316.0,75.5 315.0,76.8"/><polyline points="325.7,61.7 327.3,62.5 329.1,62.6 330.8,63.0 332.7,63.0 334.3,63.8 335.9,63.3 337.6,63.5 339.2,63.8 340.8,63.7 342.4,63.2 344.1,63.1 345.7,63.1 347.5,63.2 349.3,63.1 351.1,62.2 352.9,62.4 354.5,61.4 356.0,60.3 357.1,58.8 356.3,57.0 355.7,55.1 355.7,53.1 354.1,51.9 352.9,50.2 351.0,48.8"/><polyline points="325.7,62.4 327.5,62.7 329.1,62.0 330.9,62.3 332.6,62.3 334.3,61.7 335.9,61.7 337.6,61.5 339.2,60.9 340.8,61.6 342.5,61.6 344.1,60.8 345.7,60.9 347.4,61.0 349.1,61.7 350.8,61.5 352.6,61.8 354.3,61.7 355.8,62.0 357.0,63.1 358.5,63.3 360.0,63.7 361.5,63.9 362.9,64.5 363.7,65.9 364.7,67.2 365.4,68.6 365.7,70.2 366.8,71.5 367.6,73.0 368.7,74.3 369.3,75.9 370.0,77.4 371.3,78.4 372.0,80.1 373.9,80.6 375.0,81.9 375.8,83.4 377.1,84.5 378.6,85.1 379.8,86.0 381.0,86.9 382.0,88.2 382.9,89.5 384.3,90.2 386.1,91.1 388.1,91.3 390.0,91.7 390.5,93.5 390.7,95.2 390.9,97.1 391.4,98.8 390.8,100.2 390.5,101.7 389.4,102.9 389.5,104.6 388.6,105.9 386.8,107.0 385.7,108.8 384.8,110.1 383.5,111.2 381.9,111.8 381.0,113.3 380.0,114.5 379.2,116.3 379.2,118.3 378.6,120.2 378.4,122.1 378.6,124.0 378.6,125.9 380.3,126.6 382.1,126.6 384.0,126.1 385.7,126.7 387.4,126.5 389.2,126.4 390.8,125.7 392.6,125.8 394.3,125.2 396.2,125.0 398.1,124.4 400.0,124.5"/><polyline points="390.0,91.7 391.7,91.4 393.0,90.5 394.4,89.8 395.7,88.8 397.6,89.3 399.4,90.0 401.4,90.2 402.5,91.5 403.8,92.8 404.3,94.5 405.4,93.5 407.0,92.9 407.9,91.6 409.3,90.9 410.6,92.3 412.2,93.2 413.6,94.5 415.2,93.8 416.2,92.3 417.9,91.7 419.9,91.9 421.7,91.0 423.6,90.9 425.0,90.4 426.3,89.4 427.9,89.2 429.2,88.6 430.7,88.1 432.1,88.7 433.5,89.2 435.0,89.5 436.4,90.2 438.2,91.3 439.3,93.1"/><polyline points="377.1,85.9 375.7,86.9 374.6,88.3 372.7,88.6 371.3,89.6 370.1,90.9 368.6,91.7 367.2,92.4 365.6,92.8 364.2,93.5 362.9,94.5 362.0,95.7 360.5,96.4 359.8,97.9 358.6,98.8 358.2,100.3 357.6,101.7 356.7,103.0 356.3,104.5 355.7,105.9 354.8,107.2 354.6,108.7 354.3,110.2 355.4,111.7 357.5,111.9 358.8,113.2 360.0,114.5 361.0,115.7 362.0,116.8 363.2,117.8 364.3,118.8 366.0,119.9 367.1,121.7"/><polyline points="374.3,50.2 375.1,51.6 375.6,53.1 376.3,54.5 377.1,55.9 378.3,57.3 380.2,57.8 381.2,59.5 382.9,60.2 384.1,61.2 385.7,61.4 387.3,61.7 388.4,62.9 390.0,63.1 391.9,62.7 393.8,62.4 395.7,62.4"/><polyline points="402.9,50.2 401.7,51.4 401.5,53.3 400.5,54.6 399.0,55.7 398.6,57.4 400.6,57.4 402.4,58.2 404.3,58.8 405.1,60.2 405.5,61.8 406.2,63.2 407.1,64.5 408.5,65.8 409.5,67.3 410.7,68.8 412.3,69.5 413.7,70.5 414.8,71.9 416.5,72.5 418.0,73.4 419.3,74.5 417.9,75.5 416.3,76.3 415.0,77.4 416.4,78.5 418.0,79.3 419.5,80.3 420.7,81.7 422.3,82.6 424.2,82.5 426.0,82.5 427.5,83.5 429.3,83.8"/><polyline points="445.0,48.8 443.8,50.0 443.2,51.5 443.0,53.2 442.1,54.5 441.6,55.9 441.4,57.5 440.7,58.8 442.0,60.2 443.9,60.8 445.0,62.4 446.6,62.8 448.3,62.5 450.0,62.6 451.7,62.8 453.3,62.7 455.0,63.1 456.3,64.1 457.7,65.1 459.3,65.6 460.7,66.6 462.1,67.4 463.4,68.3 464.8,69.2 466.0,70.3 466.7,71.9 467.9,73.0 469.3,73.8 470.9,73.8 472.0,75.1 473.5,75.5 475.1,75.6 476.3,76.6 477.9,76.7 479.3,78.8 478.7,80.3 477.0,80.9 476.4,82.4 478.2,83.1 479.4,84.5 480.7,85.9 480.7,88.0 481.5,89.8 482.1,91.7 481.5,93.2 480.6,94.5 480.0,96.0 479.3,97.4 479.2,99.3 480.3,100.9 479.9,102.8 480.7,104.5 481.1,106.0 481.3,107.5 482.1,108.8"/><polyline points="482.1,48.8 483.4,50.0 484.0,51.7 485.0,53.1 485.0,55.3 484.3,57.4 486.4,58.0 487.9,59.5 489.7,59.5 491.4,59.0 493.2,59.5"/><polyline points="480.7,83.1 482.4,83.8 483.5,85.3 484.8,86.6 486.4,87.4 488.1,87.3 489.9,87.2 491.5,87.6 493.2,88.1"/><polyline points="388.6,119.5 390.3,120.3 392.1,120.8 393.8,121.6 395.7,121.7 397.7,121.6 399.4,120.5 401.4,120.2 403.2,120.3 405.0,120.2 406.3,119.2 408.0,119.0 409.5,118.4 410.8,117.4 412.4,117.1 413.6,115.9 415.2,115.8 416.3,114.4 417.7,113.7 419.2,113.1 420.6,112.6 422.1,112.1 423.6,111.7 425.2,110.8 426.9,110.5 428.8,110.8 430.4,110.1 432.1,109.5 433.8,109.2 435.5,109.0 437.1,108.6 438.8,108.3 440.3,107.3 442.1,107.4 443.6,107.0 444.9,105.9 446.4,105.7 447.9,105.2 449.6,105.5 451.3,105.9 453.0,106.5 454.6,107.2 456.4,107.4 458.4,107.4 460.1,108.6 462.1,108.8 463.5,109.9 465.2,110.6 466.6,111.8 467.9,113.1 469.5,113.5 471.1,113.9 472.8,114.1 474.5,114.0 476.1,114.4 477.6,115.0 479.3,115.2 480.8,115.8 482.3,116.1 483.9,116.2 485.5,116.2 487.0,116.5 488.5,117.2 490.1,117.1 491.6,117.3 493.2,117.4"/><polyline points="467.9,113.1 466.5,113.9 464.9,114.0 463.7,115.1 462.2,115.6 460.6,115.7 459.3,116.7 457.7,117.3 455.9,117.1 454.4,118.0 452.7,118.6 450.9,117.9 449.3,118.8 448.6,120.7 448.7,122.7 447.9,124.5 446.7,125.8 444.8,126.1 443.6,127.4 442.0,128.0 440.2,128.1 438.5,128.6 436.9,129.1 435.2,129.5 433.6,130.2 432.1,130.4 430.6,130.9 429.2,131.2 428.0,132.4 426.6,133.0 425.0,133.1 425.0,134.7 423.9,135.9 423.6,137.4 422.0,137.6 420.8,138.7 419.1,138.7 417.7,139.3 416.4,140.2 415.2,141.6 413.6,142.4 412.1,143.4 410.7,144.5"/><polyline points="408.6,127.4 408.6,129.1 408.4,130.8 408.7,132.5 408.5,134.2 408.6,135.9 407.3,136.8 405.6,136.5 404.2,137.3 402.9,138.1 401.4,138.5 400.0,139.3 398.4,139.2 397.1,140.2 395.5,140.3 394.1,140.9 392.7,141.6 391.3,142.3 390.0,143.1 388.7,144.1 387.3,144.6 385.8,145.1 384.2,145.3 383.0,146.6 381.6,147.1 380.0,147.4 378.3,147.6 376.6,148.1 374.8,147.8 373.1,148.7 371.4,148.8 370.9,147.1 369.5,145.9 368.6,144.5"/><polyline points="397.1,143.1 398.7,144.3 400.0,145.9 399.1,147.4 398.2,148.9 397.1,150.2 396.1,152.0 394.3,153.1 394.7,154.7 395.3,156.1 396.6,157.3 397.1,158.8 398.8,159.6 399.8,161.3 401.5,161.9 402.9,163.1 404.6,163.6 406.3,164.3 408.3,163.8 410.0,164.5"/><polyline points="367.1,128.8 365.3,129.2 363.5,129.4 361.8,130.1 360.0,130.2 358.5,130.5 357.2,131.3 355.6,131.5 354.2,132.0 352.9,132.9 351.3,133.0 350.1,134.2 348.6,134.5 347.0,134.7 345.9,136.2 344.5,136.7 342.9,137.0 341.5,137.6 339.9,137.8 338.6,138.8 338.0,140.5 337.8,142.3 336.9,144.0 337.1,145.9 336.4,147.6 337.0,149.4 336.1,151.0 336.1,152.8 335.7,154.5 335.6,156.3 336.5,157.9 336.1,159.7 336.5,161.4 337.1,163.1 337.6,165.0 337.0,166.9 337.1,168.8 336.7,170.3 335.9,171.6 335.6,173.1 335.0,174.5 334.7,175.9 334.3,177.4 334.3,179.0 335.7,180.1 335.7,181.7 334.2,183.0 332.9,184.5 331.7,185.8 330.6,187.1 330.0,188.8"/><polyline points="371.4,130.2 370.1,131.4 368.7,132.3 367.2,133.1 365.5,133.7 364.4,135.1 362.9,135.9 361.8,137.0 360.6,138.0 359.5,139.0 358.4,140.1 356.7,140.5 355.7,141.7"/><polyline points="357.1,145.9 356.4,147.3 355.2,148.2 353.8,149.0 352.9,150.2 351.4,150.9 350.7,152.3 349.7,153.5 348.6,154.5 347.3,153.6 345.7,153.8 344.3,153.1 342.4,153.4 340.4,153.6 338.6,154.5"/><polyline points="335.7,181.7 337.2,182.0 338.5,183.0 340.2,182.6 341.4,183.7 342.9,184.0 344.3,184.5 346.1,184.2 347.9,184.3 349.6,184.0 351.4,184.5 352.2,183.1 353.0,181.7 354.0,180.5 354.3,178.8 355.4,177.4 355.8,175.7 357.1,174.5 358.6,173.8 360.2,173.5 361.5,172.6 362.9,171.7 363.5,170.2 364.3,168.8"/><polyline points="368.6,171.7 370.6,171.8 372.5,172.2 374.3,173.1 375.7,172.0 377.4,171.4 378.6,170.2"/><polyline points="237.1,132.4 238.7,131.8 240.5,132.2 242.2,132.0 243.8,131.5 245.4,130.6 247.1,130.9 248.7,130.4 250.5,130.9 252.2,130.7 253.8,130.2 255.5,130.1 257.1,129.5 258.7,130.2 260.4,130.4 262.3,130.4 263.7,131.8 265.6,131.5 267.1,132.4 268.7,131.6 270.4,131.4 272.2,131.4 273.7,130.4 275.4,130.0 277.1,129.5 278.7,129.2 280.0,128.1 281.2,126.9 282.8,126.7 284.4,126.2 285.6,125.0 287.1,124.5 288.4,123.7 290.2,123.9 291.3,122.5 292.9,122.4 294.7,122.3 296.3,123.2 298.0,123.5 299.6,123.9 301.4,123.8 302.9,124.6 304.2,125.7 305.8,126.2 307.1,127.4 308.1,128.7 308.3,130.4 308.8,131.9 310.0,133.1 309.6,135.0 309.9,136.9 310.0,138.8 311.1,140.2 312.3,141.5 313.6,142.8 314.3,144.5 314.5,146.3 315.5,148.0 315.5,149.9 315.7,151.7 315.7,153.7 314.9,155.5 314.3,157.4 314.8,159.3 315.5,161.1 315.7,163.1 316.4,164.9 317.0,166.8 317.1,168.8 318.6,169.4 320.0,170.2 321.7,170.6 322.9,171.7"/><polyline points="268.6,133.1 270.0,134.4 270.8,136.1 272.1,137.4 271.9,139.2 272.1,141.0 273.0,142.7 272.9,144.5 272.8,146.4 273.3,148.2 274.3,149.8 274.3,151.7 276.2,151.9 278.1,152.0 280.0,152.4 281.8,152.7 283.7,153.1 285.2,154.5 287.1,154.5 289.0,154.7 290.9,155.2 292.9,155.2"/><polyline points="255.7,167.4 257.3,167.0 259.0,167.6 260.6,167.2 262.2,167.2 263.8,167.9 265.5,167.4 267.1,167.4 268.7,167.6 270.3,167.0 271.9,167.8 273.5,167.0 275.0,167.7 276.6,167.8 278.2,167.5 279.8,167.4 281.4,167.4 283.1,167.3 284.7,166.6 286.3,166.1 288.0,165.9 289.7,165.7 291.2,164.8 292.9,164.5 294.1,163.1 295.9,162.7 297.2,161.6 298.6,160.5 300.0,159.5 301.5,159.0 302.7,157.8 304.3,157.4"/><polyline points="255.7,168.8 257.1,169.6 258.7,169.6 260.0,170.6 261.3,171.6 262.7,172.2 264.1,172.9 265.7,173.1 266.9,174.4 268.5,174.9 270.2,175.3 271.6,176.3 272.9,177.4 274.6,178.0 276.6,178.0 278.3,178.7 280.0,179.5 281.3,180.5 282.0,181.9 282.3,183.6 283.6,184.5 284.3,185.9 283.9,188.0 284.3,190.2 285.5,191.5 285.7,193.4 287.1,194.5 288.2,195.8 288.2,197.4 288.8,198.8 289.9,200.1 290.0,201.7 290.2,203.3 291.4,204.5 289.9,204.9 288.5,205.3 287.1,205.9 285.6,206.5 284.3,207.4"/><polyline points="280.0,179.5 281.2,180.6 282.8,181.0 284.3,181.7 285.7,182.3 287.1,183.1 288.7,182.7 290.4,183.0 291.8,181.8 293.5,181.8 295.0,181.3 296.7,181.5 298.3,181.3 299.7,180.2 301.4,180.2 302.7,179.3 304.2,179.0 305.8,179.1 307.2,178.6 308.4,177.4 310.0,177.4 311.6,177.2 312.7,175.9 314.3,175.9 316.1,176.6 318.0,176.8"/><polyline points="284.3,190.2 283.1,191.4 281.4,191.9 280.1,193.0 278.6,193.8 277.2,194.3 275.7,194.7 274.3,195.2 272.9,195.9 274.0,197.1 274.3,198.8 275.5,200.4 277.1,201.7"/><polyline points="198.6,195.9 200.2,196.5 202.1,196.4 203.6,197.2 205.2,198.1 207.0,198.0 208.6,198.8 210.4,198.8 212.0,199.5 213.7,199.7 215.3,200.2 217.1,200.2 218.5,200.9 219.9,201.4 221.4,202.0 222.9,202.4 224.3,203.1 226.1,204.1 228.2,203.7 230.0,204.5 231.4,205.2 233.1,205.5 234.1,207.1 235.6,207.7 237.1,208.3 238.6,208.8 240.1,209.5 241.5,210.4 242.7,211.5 244.3,212.1 246.0,212.4 247.2,213.7 248.6,214.5 249.8,215.8 251.2,216.7 252.7,217.6 254.5,218.0 255.5,219.6 257.1,220.2 258.4,221.0 259.9,221.4 261.4,221.7 263.2,220.8 265.2,220.6 267.1,220.2 268.5,221.2 270.0,222.1 271.4,223.1 271.4,224.7 272.0,226.1 272.9,227.4 274.3,229.2 275.7,230.9"/><polyline points="268.6,220.2 270.0,219.5 270.8,218.1 272.0,217.1 273.4,216.5 274.3,215.2 275.7,214.5 277.3,214.2 278.7,213.3 279.8,212.0 281.4,211.7 282.3,210.2 283.7,209.1 284.3,207.4"/><polyline points="140.9,206.7 142.5,206.3 144.1,205.6 145.7,205.2 146.6,203.7 146.8,201.8 148.4,200.6 148.6,198.8 149.1,197.3 150.0,195.9 150.8,194.6 151.4,193.1 154.3,193.1"/><polyline points="187.1,197.4 186.1,198.8 184.9,200.0 184.3,201.7 183.5,203.0 182.4,204.1 181.3,205.1 180.0,205.9 179.8,207.9 179.5,209.9 178.6,211.7 177.8,213.2 176.5,214.1 174.9,214.8 174.3,216.5 172.9,217.4 171.6,218.5 170.3,219.6 168.3,219.6 167.0,220.6 165.7,221.7 164.2,222.6 163.0,224.1 161.4,224.9 160.0,225.9"/><polyline points="140.9,225.2 142.4,224.9 143.9,224.3 145.5,224.4 147.1,224.5 148.6,223.8 150.3,224.1 152.1,223.9 153.7,224.8 155.3,225.4 157.1,225.2 158.4,224.2 160.2,224.2 161.4,223.1 162.8,222.2 164.5,221.7 165.9,220.8 167.0,219.5 168.6,218.8 170.2,218.5 171.8,218.9 173.4,219.0 175.0,218.6 176.5,218.4 178.1,218.2 179.7,218.6 181.3,217.9 182.9,218.1 184.5,217.7 186.1,218.3 187.6,217.3 189.2,217.1 190.8,217.0 192.4,217.2 194.0,217.4 195.5,216.7 197.1,216.7 198.8,216.4 200.5,216.7 202.1,216.3 203.8,216.4 205.4,215.7 207.1,215.9 208.8,215.9 210.5,216.0 212.0,217.0 213.8,216.6 215.4,217.5 217.1,217.4 218.9,217.1 220.6,217.9 222.2,218.8 224.0,218.7 225.7,218.8 226.0,217.3 226.8,216.0 227.1,214.5 225.6,214.1 224.1,213.9 222.9,212.7 221.3,212.6 220.0,211.7"/><polyline points="140.9,249.5 142.4,249.0 144.1,248.7 145.5,247.8 147.1,247.5 148.6,246.7 150.3,246.6 151.9,246.2 153.5,245.6 155.3,245.8 156.9,245.2 158.6,245.2 160.2,244.6 161.8,244.9 163.4,245.0 165.0,244.7 166.6,245.0 168.2,244.7 169.8,244.9 171.4,244.5 173.0,244.7 174.7,244.0 176.3,244.2 178.0,244.2 179.6,244.7 181.3,244.2 182.9,244.5 184.6,244.1 186.3,244.0 188.1,244.0 189.6,242.9 191.4,243.1 193.2,243.1 194.8,244.1 196.6,244.0 198.3,244.0 200.0,244.5 201.6,244.0 203.4,244.2 205.0,243.6 206.5,242.7 208.0,242.0 209.8,242.1 211.4,241.7 212.7,240.8 214.4,240.6 215.5,239.2 217.1,238.8 218.1,237.7 219.3,236.7 220.5,235.7 221.4,234.5 222.5,232.8 224.3,231.7 225.6,230.7 227.1,230.3 228.6,230.0 230.0,229.3 231.8,229.5 233.5,229.4 235.3,230.0 237.1,229.5 238.9,230.6 240.0,232.4"/><polyline points="148.6,277.1 148.4,275.3 148.3,273.6 147.3,272.0 147.1,270.2 147.8,268.7 148.9,267.4 149.4,265.7 150.7,264.6 151.4,263.1 152.3,261.9 153.7,261.1 154.3,259.6 155.7,258.8 157.4,259.2 158.9,258.2 160.6,258.5 162.2,258.4 163.8,257.9 165.4,258.0 166.9,257.1 168.6,257.4 170.3,257.3 171.9,257.2 173.4,256.2 175.1,256.3 176.7,255.6 178.3,255.2 180.0,255.2 181.4,254.4 182.9,253.9 184.1,252.7 185.8,252.5 187.1,251.5 188.6,250.9 190.2,251.3 191.7,251.9 192.7,253.5 194.3,253.8 195.6,254.8 197.3,255.4 198.6,256.5 200.0,257.4 201.4,256.8 202.8,256.2 204.1,255.4 205.6,255.0 207.1,254.8 208.6,254.4 209.9,253.4 211.4,253.1 213.0,252.5 214.7,253.0 216.3,252.7 218.0,252.6 219.6,251.8 221.3,251.9 222.9,251.7 223.4,250.1 224.6,248.9 225.4,247.6 225.7,245.9 226.0,244.2 226.6,242.6 227.1,240.9"/><polyline points="181.4,276.7 182.8,276.2 184.3,275.9 185.8,275.5 187.3,275.2 188.4,273.9 190.0,273.8 191.5,273.0 193.2,273.0 194.8,272.7 196.4,272.1 198.1,272.0 199.7,271.6 201.4,271.7 202.9,270.9 204.5,271.4 206.1,271.5 207.7,271.8 209.5,271.4 211.0,272.0 212.7,272.2 214.3,272.4 215.5,271.2 217.0,270.7 218.4,269.9 219.7,269.0 221.4,268.8"/><polyline points="370.0,154.5 371.8,154.6 373.6,154.3 375.3,154.9 377.1,154.5 378.6,155.0 379.9,156.2 381.3,157.0 382.9,157.4 383.7,158.8 384.7,160.1 384.5,161.9 385.7,163.1 387.4,163.3 389.1,163.6 390.8,163.6 392.6,163.3 394.3,164.0 396.0,164.0 397.5,164.3 399.0,164.0 400.5,164.7 402.0,164.6 403.5,164.6 405.0,164.5 406.6,164.0 408.3,164.8 409.9,164.5 411.5,163.7 413.2,164.5 414.8,164.4 416.4,163.8 418.1,164.3 419.9,163.7 421.6,164.1 423.3,164.2 425.0,164.5 426.6,164.4 428.3,164.6 429.9,165.0 431.5,165.0 433.1,165.4 434.8,164.9 436.4,165.2 437.9,165.6 439.6,165.4 441.1,165.9 442.7,166.0 444.2,166.0 445.8,166.4 447.3,166.7 449.0,166.0 450.5,166.7 452.1,166.7"/><polyline points="385.7,163.1 384.1,163.4 382.7,164.2 381.7,165.7 380.3,166.4 378.8,166.9 377.7,168.3 377.1,169.9 376.7,171.5 375.8,173.0 375.0,174.5"/><polyline points="423.6,138.8 425.4,139.1 427.2,139.1 428.9,139.9 430.7,140.2 431.8,141.3 432.7,142.5 433.5,143.8 435.0,144.5 434.2,146.2 433.2,147.6 431.5,148.6 430.7,150.2 430.1,151.7 429.3,153.0 428.6,154.5 427.9,155.9 427.6,157.4 427.3,158.9 426.4,160.2 427.9,160.7 429.4,161.1 430.8,161.8 432.2,162.3 433.6,163.1 435.2,163.6 437.0,163.4 438.5,164.1 440.0,165.1 441.6,165.6 443.4,165.2 445.0,165.9 446.6,166.7 448.4,166.7 450.1,167.3 451.9,166.7 453.6,167.4"/><polyline points="467.9,133.8 469.6,134.1 471.2,134.0 472.8,133.8 474.4,133.8 476.1,133.7 477.7,133.4 479.3,133.1 480.9,133.0 482.3,132.0 483.9,131.8 485.4,131.3 487.0,131.5 488.5,130.7 490.1,130.8 491.5,130.0 493.2,130.2"/><polyline points="449.3,137.4 451.0,137.4 452.6,138.3 454.3,138.2 456.0,137.9 457.7,138.3 459.3,138.8 461.0,138.5 462.7,138.7 464.5,138.4 466.2,139.2 467.9,138.8 469.6,139.3 471.4,139.6 472.8,141.0 474.8,140.9 476.4,141.7 477.9,142.2 479.4,142.1 481.0,141.4 482.5,141.7 484.0,141.8 485.6,142.3 487.1,141.8 488.6,142.6 490.2,141.9 491.7,142.7 493.2,142.4"/><polyline points="475.0,109.5 476.3,110.4 477.8,110.8 479.3,110.9 481.1,110.1 483.2,110.1 485.0,109.3"/><polyline points="445.7,185.2 447.0,186.1 447.8,187.5 448.0,189.2 449.3,190.2 450.6,191.4 450.7,193.4 452.1,194.5 451.6,196.2 450.5,197.4 449.5,198.8 449.0,200.4 447.9,201.7 449.2,202.7 449.8,204.4 451.3,205.1 452.8,205.9 453.6,207.4 453.2,208.9 452.4,210.2 452.1,211.7 450.9,213.3 449.3,214.5"/></g><g stroke="#000" stroke-width="0.68"><polyline points="140.9,63.1 142.6,62.8 144.1,61.8 145.6,61.0 147.1,60.2 148.6,59.5 150.3,59.1 152.0,59.1 153.6,58.4 155.2,57.7 156.9,57.5 158.6,57.4 160.3,56.8 162.0,56.7 163.7,56.4 165.4,56.3 167.1,55.9 168.6,53.1 169.0,51.2 170.0,49.5 170.5,48.8"/><polyline points="202.9,48.8 202.5,50.9 202.9,53.1 201.5,54.1 200.2,55.2 198.7,56.0 197.1,56.7 195.5,57.7 193.6,58.0 191.9,58.5 190.3,59.6 188.6,60.2 186.7,61.0 184.9,61.9 182.9,62.4 184.3,64.5 186.2,64.2 188.1,64.2 190.0,64.5 191.8,64.1 193.6,64.3 195.3,64.5 197.1,64.5 199.0,65.2 200.9,65.7 202.9,65.9 204.7,66.5 206.5,67.1 208.1,68.3 210.0,68.8 211.8,68.5 213.6,68.6 215.3,68.2 217.1,68.1 218.6,67.5 220.1,66.8 221.4,65.8 222.9,65.2 224.4,64.4 225.7,63.3 227.1,62.4 228.7,61.4 230.0,60.2 230.9,61.6 232.0,62.8 230.9,64.4 229.2,65.3 228.0,66.8 226.3,67.2 224.9,68.3 223.0,68.4 221.6,69.6 220.0,70.2 218.6,71.1 217.3,71.9 215.7,72.4 214.0,72.5 212.2,72.8 210.5,72.9 208.7,72.7 207.0,73.0 205.2,73.0 203.5,72.7 201.8,73.4 200.0,73.1 198.6,75.2 197.1,76.3 195.6,77.4 194.3,78.8 193.1,80.2 191.2,80.6 189.8,81.7 188.6,83.1 187.1,83.9 185.7,84.8 184.5,86.1 182.9,86.7 181.3,87.5 179.5,87.4 177.9,88.1 178.6,90.2 180.7,89.6 182.9,89.5 185.0,89.6 187.1,90.2 188.7,88.9 189.8,87.2 191.4,85.9 193.1,85.6 194.8,84.9 196.6,85.4 198.3,84.8 200.0,84.5 201.9,84.8 203.6,85.5 205.3,86.2 207.1,86.7 208.4,85.2 209.4,83.5 210.2,81.7 211.4,80.2 213.2,79.9 214.9,79.2 216.8,79.1 218.6,78.8 220.4,79.3 222.2,79.8 223.8,80.8 225.7,80.9 227.8,80.8 230.0,80.9 231.7,80.8 233.4,80.1 235.2,80.1 236.9,79.7 238.6,79.5 240.5,78.9 242.5,78.8 244.3,78.1 246.2,78.0 248.1,78.5 250.0,78.8 251.7,78.5 253.4,78.8 255.2,78.9 256.9,79.2 258.6,78.8 260.3,78.8 262.0,78.9 263.6,78.3 265.3,78.7 266.9,78.1 268.6,78.1 270.4,78.1 272.0,77.1 273.7,76.9 275.4,76.2 277.1,75.9 278.9,75.1 280.7,74.6 282.6,74.1 284.3,73.1 284.3,70.2 282.5,70.5 280.7,70.6 278.9,70.3 277.1,70.2 275.3,69.4 273.4,68.6 271.4,68.1 273.1,66.5 274.3,64.5 276.6,63.8 278.6,62.4 280.4,61.8 282.3,61.7 284.0,61.1 285.7,60.2 287.1,58.7 288.5,57.3 290.0,55.9 289.9,54.0 290.3,52.1 290.0,50.2 290.0,48.8"/><polyline points="333.3,48.8 332.9,50.2 331.8,52.1 331.0,54.0 330.0,55.9 328.7,57.5 327.0,58.7 325.7,60.2 323.9,61.4 321.7,61.8 320.0,63.1 319.6,65.2 320.0,67.4 318.4,68.0 316.7,68.4 315.2,69.4 313.4,69.5 311.8,70.4 310.4,71.5 308.6,71.7 307.0,72.5 305.2,72.4 303.5,72.9 301.9,73.5 300.2,73.8 298.6,74.5 296.9,75.1 295.0,75.3 293.3,75.9 291.8,77.0 290.0,77.4 289.1,78.9 288.4,80.5 287.1,81.7 287.2,83.7 288.4,85.4 288.6,87.4 287.1,88.3 285.6,89.1 284.3,90.2 282.6,90.5 281.1,91.3 279.4,91.4 277.9,92.1 276.3,92.7 274.6,92.8 272.9,93.1 271.6,94.0 270.0,94.5 268.6,95.3 267.1,95.9 265.7,98.1 262.9,99.5 261.2,99.1 259.4,99.5 257.6,99.3 255.9,98.9 254.1,99.0 252.4,99.0 250.6,99.2 248.9,98.4 247.1,98.8 245.6,97.7 244.2,96.6 242.9,95.2 241.2,95.2 239.5,94.9 237.7,94.7 236.0,95.0 234.3,94.5 235.1,96.6 235.7,98.8 237.0,100.0 237.8,101.6 238.6,103.1 239.2,105.0 239.4,106.9 240.0,108.8 241.4,110.2 239.5,110.5 237.6,110.3 235.7,110.2 233.9,111.1 231.9,111.3 230.0,111.7 228.3,111.1 226.5,111.0 224.7,111.0 222.9,110.9 220.9,110.5 218.9,110.3 217.1,109.5 215.3,109.4 213.6,109.3 211.8,109.5 210.0,109.5 208.2,109.9 206.4,109.4 204.7,109.8 202.9,110.2 201.0,110.7 199.1,111.0 197.1,110.9 195.4,111.5 193.9,112.6 192.1,113.1 192.9,114.8 194.3,115.9 196.2,116.2 198.1,115.8 200.0,115.9 198.0,116.7 196.4,118.2 194.3,118.8 195.9,120.0 197.1,121.7 198.6,123.8 200.4,123.1 202.5,123.2 204.3,122.4 206.4,123.4 208.6,123.8 210.4,124.7 212.4,124.6 214.3,125.2 216.2,125.8 218.0,126.6 220.0,126.7 221.8,127.5 223.8,127.8 225.7,128.1 227.1,129.6 228.6,130.9 230.0,131.7 231.4,132.5 232.9,133.1 231.4,135.9 233.2,137.0 234.2,138.8 235.7,140.2 236.5,141.9 237.7,143.3 239.2,144.5 240.2,146.0 241.4,147.4 242.2,148.9 243.3,150.3 244.3,151.7 244.9,153.7 246.3,155.4 247.1,157.4 246.2,159.2 245.8,161.1 245.7,163.1 245.6,165.0 245.6,166.9 245.7,168.8 245.1,170.7 245.1,172.7 244.3,174.5 244.1,176.2 244.1,178.0 243.6,179.7 243.2,181.4 242.9,183.1 242.2,185.3 241.4,187.4 239.8,188.0 238.4,189.1 237.1,190.2 235.4,191.0 233.6,191.2 231.8,191.6 230.0,191.7 228.3,191.9 226.7,191.7 225.1,191.4 223.5,190.8 221.8,191.4 220.2,191.5 218.6,190.9 216.8,190.9 215.1,190.2 213.4,190.0 211.6,189.6 210.0,188.8 208.3,189.5 206.6,189.4 204.9,189.9 203.2,190.3 201.4,190.2 199.7,190.4 198.1,190.0 196.4,190.2 194.7,190.0 193.1,190.0 191.4,190.2 189.7,189.9 188.1,189.2 186.3,189.4 184.6,189.2 182.9,188.8 181.0,188.5 179.4,187.6 177.5,187.3 175.7,186.7 174.0,186.9 172.4,186.7 170.7,187.4 169.0,187.1 167.3,186.9 165.7,187.4 163.9,187.1 162.3,187.7 160.5,187.8 158.8,187.5 157.1,188.1 155.4,187.5 153.9,186.6 152.1,186.4 150.5,185.6 148.7,185.4 147.1,184.5 145.1,185.3 143.0,185.5 140.9,185.9"/><polyline points="244.3,151.7 245.6,153.2 247.0,154.7 248.6,155.9 249.8,157.3 250.5,159.0 251.9,160.2 252.9,161.7 254.0,163.0 254.9,164.4 255.7,165.9 256.8,167.2 257.1,168.8"/><polyline points="251.4,277.1 251.8,275.0 252.9,273.1 253.6,271.1 255.1,269.5 255.7,267.4 257.4,266.9 258.4,265.3 259.9,264.6 261.6,264.3 262.9,263.1 264.3,262.1 265.5,260.8 267.1,260.2 265.5,259.6 264.1,258.7 262.9,257.4 261.8,256.1 261.1,254.4 260.0,253.1 260.3,251.2 260.1,249.3 260.0,247.4 261.1,245.9 262.5,244.6 263.5,243.1 264.8,241.7 266.1,240.4 267.1,238.8 268.0,237.2 269.3,236.1 270.8,235.2 271.5,233.5 272.9,232.4 273.7,230.9 274.7,229.5 275.7,228.1 276.9,226.7 278.7,226.2 279.7,224.5 281.4,223.8 283.2,223.4 284.6,222.3 286.4,221.8 288.2,221.7 289.7,220.5 291.5,220.3 293.1,219.5 295.0,219.2 296.6,218.5 298.2,217.6 299.6,216.4 301.4,215.9 303.0,215.0 304.7,214.9 306.3,214.1 308.0,213.9 309.8,213.6 311.4,213.1 311.5,211.1 312.5,209.3 312.9,207.4 312.3,205.2 311.4,203.1 310.8,201.2 310.1,199.4 310.0,197.4 311.3,195.9 312.8,194.5 314.3,193.1 316.2,192.2 318.2,191.4 320.0,190.2 321.7,189.5 323.5,188.9 325.4,188.9 327.1,188.1 329.0,188.4 331.0,188.2 332.9,188.8 334.9,188.9 336.7,189.6 338.6,190.2 340.4,191.3 342.5,191.3 344.3,192.4 346.1,192.7 347.7,193.8 349.6,194.2 351.4,194.5 353.1,194.6 354.8,195.1 356.5,195.3 358.3,195.2 360.0,195.2 361.4,194.2 362.9,193.4 364.3,192.4 365.9,191.6 367.1,190.4 368.7,189.6 370.0,188.5 371.4,187.4 373.2,186.8 375.0,186.4 376.7,185.6 378.2,184.3 380.0,183.8 381.8,183.1 383.9,183.1 385.7,182.4 387.4,181.5 388.3,179.7 390.0,178.6 391.4,177.4 393.4,177.0 395.3,176.1 397.1,175.2 398.9,175.5 400.7,175.7 402.5,175.7 404.3,175.9 406.1,176.9 408.0,177.6 410.0,178.1 412.1,178.8 413.4,179.8 414.9,180.4 416.5,181.0 417.9,181.7 418.1,183.7 418.4,185.6 419.3,187.4 420.3,189.3 421.0,191.3 422.1,193.1 422.8,195.3 423.6,197.4 424.8,198.7 426.4,199.3 427.9,200.2 429.4,201.2 430.7,202.5 432.3,203.2 433.6,204.5 435.0,205.3 436.7,205.9 437.9,207.0 439.1,208.3 440.7,208.8 441.9,210.3 443.6,211.1 445.2,212.0 446.5,213.4 447.9,214.5 449.1,215.7 450.6,216.4 452.2,217.1 453.5,218.1 455.0,218.8 456.9,219.5 458.6,220.6 460.2,221.7 462.1,222.4 463.9,222.1 465.7,222.8 467.5,222.9 469.3,223.1 471.3,223.8 473.1,225.0 475.0,225.9 476.7,227.1 477.9,228.8 479.5,229.2 481.0,229.9 482.4,231.0 483.9,231.6 485.5,232.1 487.4,233.6 489.3,235.0 490.7,236.2 492.0,237.5 493.2,238.8"/><polyline points="493.2,211.7 491.2,211.1 489.3,210.2 487.8,209.4 486.5,208.1 484.9,207.5 483.6,206.3 481.9,205.8 480.7,204.5 479.6,203.3 478.1,202.5 477.0,201.3 476.4,199.7 475.0,198.8 474.4,197.3 473.2,196.1 472.9,194.5 472.0,193.2 471.7,191.5 470.7,190.2 469.2,189.3 467.8,188.1 466.7,186.7 465.0,185.9 463.5,185.2 462.1,184.4 460.8,183.4 459.4,182.5 457.9,181.8 456.4,181.1 455.0,180.2 454.3,178.5 452.9,177.3 451.8,175.9 450.7,174.5 450.5,172.6 450.9,170.7 450.7,168.8 449.9,166.8 448.9,165.0 447.9,163.1 448.8,161.6 450.1,160.4 450.7,158.8 452.7,158.5 454.5,157.8 456.4,157.4 458.5,156.8 460.3,155.6 462.1,154.5 464.0,154.6 466.0,154.6 467.9,154.5 469.6,155.7 470.7,157.4 470.2,159.3 469.5,161.1 469.3,163.1 470.6,164.3 472.0,165.2 473.6,165.9 475.1,164.6 476.4,163.1 478.3,162.8 480.3,162.4 482.1,161.7 483.7,162.7 484.8,164.3 486.1,165.5 487.4,166.9 487.7,168.9 488.4,170.7 488.5,172.7 489.3,174.5 490.3,175.9 491.6,177.1 491.9,179.0 493.2,180.2"/><polyline points="405.9,196.5 405.4,199.5 403.7,199.5 402.0,199.8 400.4,200.5 399.2,202.0 397.3,202.0 395.9,203.0 394.3,204.5 393.3,206.5 394.1,208.6 394.1,210.8 395.0,212.5 395.8,214.3 396.7,216.0 398.2,217.1 399.3,218.6 400.8,219.4 402.2,220.4 403.7,221.2 404.7,219.1 405.4,216.9 406.2,215.1 407.5,213.6 408.0,211.7 408.4,209.7 408.4,207.6 408.9,205.6 408.7,203.7 407.5,202.2 407.2,200.4 406.6,198.6 406.3,196.8 405.9,196.5"/><polyline points="403.7,222.1 402.5,223.3 400.8,224.0 399.3,224.7 397.6,226.0 396.0,227.3 394.1,228.2 392.4,228.9 390.6,228.8 388.9,229.1 388.3,227.4 388.0,225.6 389.8,224.7 388.6,226.2 387.8,228.0 387.2,229.9 387.7,232.1 388.0,234.3 389.5,235.8 390.4,237.7 391.5,239.5 392.2,241.2 391.7,243.0 392.4,244.7 392.0,246.5 391.1,248.1 390.7,249.9 389.7,252.0 388.9,254.3 390.5,255.9 392.4,256.9 394.1,257.5 395.8,258.2 397.6,258.6 399.4,257.4 401.1,256.0 402.9,254.8 404.6,253.4 406.3,252.6 408.0,251.7 408.7,250.0 408.9,248.1 409.8,246.5 410.2,244.5 410.4,242.4 410.7,240.4 411.0,238.2 411.5,236.0 411.9,234.2 412.4,232.5 411.8,230.6 411.0,228.9 409.8,227.3 408.7,226.0 407.4,225.0 406.3,223.8 403.7,222.1"/><polyline points="300.0,248.8 301.3,247.7 303.0,247.1 304.3,245.9 306.2,245.2 308.2,244.9 310.0,243.8 312.9,243.1 314.4,244.4 315.7,245.9 315.2,248.1 314.3,250.2 312.0,250.6 310.0,251.7 308.6,254.5 307.1,253.1 306.0,251.3 304.3,250.2 302.1,249.6 300.0,248.8"/><polyline points="321.9,240.7 323.6,241.1 325.2,241.9 327.0,242.0 328.6,242.6 326.8,243.8 324.8,244.5 323.4,242.5 321.9,240.7"/><polyline points="282.9,257.4 285.0,256.7 287.1,255.9 287.9,258.1 286.0,258.5 284.3,259.5 282.9,257.4"/><polyline points="340.0,51.7 341.6,51.6 343.3,51.7 344.9,51.2 346.5,51.4 348.2,51.3 349.8,50.7 351.4,50.9 352.9,53.1 351.0,54.0 349.1,54.8 347.1,55.2 345.3,54.8 343.6,55.3 341.8,55.0 340.0,55.2 339.6,53.4 340.0,51.7"/><polyline points="320.0,63.8 322.1,63.8 324.0,63.2 326.0,62.8 327.7,64.6 328.6,66.8 327.3,68.0 325.4,68.3 324.0,69.3 322.0,69.2 320.0,68.8"/><polyline points="482.0,162.8 484.1,163.5 486.0,164.8 485.0,166.8 484.0,168.8 485.7,169.7 487.4,170.6 489.0,171.8 489.3,173.6 489.9,175.3 491.0,176.8"/><polyline points="478.0,164.8 478.9,166.2 480.3,167.2 481.0,168.8 481.7,170.5 482.9,171.8 484.3,173.1 485.0,174.8"/><polyline points="481.0,161.8 483.0,161.2 485.0,161.3 486.5,163.0 488.0,164.8 488.9,166.8 490.0,168.8 491.2,170.7 492.0,172.8"/><polyline points="483.0,170.8 484.6,172.2 486.0,173.8 487.1,175.4 488.4,176.9 489.0,178.8 490.5,180.6 492.5,181.8"/><polyline points="479.0,167.8 480.2,169.0 481.1,170.4 482.0,171.8 483.2,173.7 484.0,175.8"/><polyline points="486.0,165.8 487.5,167.0 489.0,168.3"/></g><g stroke="#202060" stroke-width="1.1"><polyline points="175.0,215.3 178.0,214.3 180.0,215.3"/><polyline points="163.0,243.3 166.0,242.4 169.0,243.6"/><polyline points="186.0,241.3 188.0,238.8"/><polyline points="421.5,199.3 418.0,199.5"/><polyline points="357.1,145.9 362.9,143.8 368.6,144.5"/><polyline points="400.0,123.8 404.0,124.8 408.6,127.4"/><polyline points="423.6,157.4 427.9,153.1"/><polyline points="394.3,149.8 397.0,153.8"/></g><g fill="#222" stroke="none"><circle cx="452.1" cy="54.5" r="0.6"/><circle cx="459.3" cy="54.5" r="0.6"/><circle cx="462.9" cy="53.8" r="0.6"/><circle cx="470.7" cy="53.8" r="0.6"/><circle cx="478.6" cy="59.5" r="0.6"/><circle cx="481.4" cy="65.9" r="0.6"/><circle cx="225.7" cy="98.8" r="0.6"/><circle cx="230.5" cy="102.3" r="0.6"/><circle cx="186.4" cy="113.8" r="0.6"/><circle cx="215.7" cy="130.9" r="0.6"/><circle cx="228.6" cy="139.5" r="0.6"/><circle cx="417.9" cy="199.5" r="0.6"/><circle cx="412.1" cy="195.2" r="0.6"/><circle cx="443.6" cy="202.4" r="0.6"/><circle cx="285.7" cy="261.7" r="0.6"/></g></g>
</defs>
<rect width="630" height="828" fill="#fff"/>
<g transform="translate(0,0.00)">
<text x="21.55" y="23.7" font-family="Liberation Sans" font-size="13.1" fill="#111" textLength="19.20" lengthAdjust="spacingAndGlyphs">IFS</text><text x="44.80" y="23.7" font-family="Liberation Sans" font-size="13.1" fill="#111" textLength="4.60" lengthAdjust="spacingAndGlyphs">-</text><text x="53.46" y="23.7" font-family="Liberation Sans" font-size="13.1" fill="#111" textLength="43.30" lengthAdjust="spacingAndGlyphs">Probas</text><text x="100.82" y="23.7" font-family="Liberation Sans" font-size="13.1" fill="#111" textLength="32.14" lengthAdjust="spacingAndGlyphs">T850</text><text x="141.07" y="23.7" font-family="Liberation Sans" font-size="13.1" fill="#111" textLength="83.00" lengthAdjust="spacingAndGlyphs">standardized</text><text x="228.12" y="23.7" font-family="Liberation Sans" font-size="13.1" fill="#111" textLength="23.71" lengthAdjust="spacingAndGlyphs">ano</text><text x="255.88" y="23.7" font-family="Liberation Sans" font-size="13.1" fill="#111" textLength="10.69" lengthAdjust="spacingAndGlyphs">&lt;</text><text x="270.63" y="23.7" font-family="Liberation Sans" font-size="13.1" fill="#111" textLength="28.99" lengthAdjust="spacingAndGlyphs">than</text><text x="303.67" y="23.7" font-family="Liberation Sans" font-size="13.1" fill="#111" textLength="8.12" lengthAdjust="spacingAndGlyphs">1</text><text x="315.84" y="23.7" font-family="Liberation Sans" font-size="13.1" fill="#111" textLength="12.14" lengthAdjust="spacingAndGlyphs">σ,</text><text x="332.04" y="23.7" font-family="Liberation Sans" font-size="13.1" fill="#111" textLength="24.69" lengthAdjust="spacingAndGlyphs">Init:</text><text x="360.79" y="23.7" font-family="Liberation Sans" font-size="13.1" fill="#111" textLength="64.93" lengthAdjust="spacingAndGlyphs">20260119</text><text x="429.77" y="23.7" font-family="Liberation Sans" font-size="13.1" fill="#111" textLength="22.93" lengthAdjust="spacingAndGlyphs">12z</text><text x="456.76" y="23.7" font-family="Liberation Sans" font-size="13.1" fill="#111" textLength="4.60" lengthAdjust="spacingAndGlyphs">-</text><text x="465.41" y="23.7" font-family="Liberation Sans" font-size="13.1" fill="#111" textLength="36.03" lengthAdjust="spacingAndGlyphs">Valid:</text><text x="505.50" y="23.7" font-family="Liberation Sans" font-size="13.1" fill="#111" textLength="85.46" lengthAdjust="spacingAndGlyphs">20260126:00</text><text x="595.01" y="23.7" font-family="Liberation Sans" font-size="13.1" fill="#111" textLength="17.13" lengthAdjust="spacingAndGlyphs">TU</text>
<rect x="158.50" y="36.2" width="35.22" height="7" fill="#ffff00"/>
<rect x="193.72" y="36.2" width="35.22" height="7" fill="#ffd500"/>
<rect x="228.94" y="36.2" width="35.22" height="7" fill="#ffb200"/>
<rect x="264.17" y="36.2" width="35.22" height="7" fill="#ff8c00"/>
<rect x="299.39" y="36.2" width="35.22" height="7" fill="#ff6400"/>
<rect x="334.61" y="36.2" width="35.22" height="7" fill="#ff1c00"/>
<rect x="369.83" y="36.2" width="35.22" height="7" fill="#d70000"/>
<rect x="405.06" y="36.2" width="35.22" height="7" fill="#a00000"/>
<rect x="440.28" y="36.2" width="35.22" height="7" fill="#640000"/>
<line x1="193.72" y1="36.2" x2="193.72" y2="43.2" stroke="#222" stroke-width="0.8"/>
<line x1="228.94" y1="36.2" x2="228.94" y2="43.2" stroke="#222" stroke-width="0.8"/>
<line x1="264.17" y1="36.2" x2="264.17" y2="43.2" stroke="#222" stroke-width="0.8"/>
<line x1="299.39" y1="36.2" x2="299.39" y2="43.2" stroke="#222" stroke-width="0.8"/>
<line x1="334.61" y1="36.2" x2="334.61" y2="43.2" stroke="#222" stroke-width="0.8"/>
<line x1="369.83" y1="36.2" x2="369.83" y2="43.2" stroke="#222" stroke-width="0.8"/>
<line x1="405.06" y1="36.2" x2="405.06" y2="43.2" stroke="#222" stroke-width="0.8"/>
<line x1="440.28" y1="36.2" x2="440.28" y2="43.2" stroke="#222" stroke-width="0.8"/>
<rect x="158.5" y="36.2" width="317.0" height="7" fill="none" stroke="#000" stroke-width="1"/>
<text x="152.90" y="31.1" font-family="Liberation Sans" font-size="8.6" fill="#111" textLength="11.2" lengthAdjust="spacingAndGlyphs">10</text>
<text x="188.12" y="31.1" font-family="Liberation Sans" font-size="8.6" fill="#111" textLength="11.2" lengthAdjust="spacingAndGlyphs">25</text>
<text x="223.34" y="31.1" font-family="Liberation Sans" font-size="8.6" fill="#111" textLength="11.2" lengthAdjust="spacingAndGlyphs">40</text>
<text x="258.57" y="31.1" font-family="Liberation Sans" font-size="8.6" fill="#111" textLength="11.2" lengthAdjust="spacingAndGlyphs">50</text>
<text x="293.79" y="31.1" font-family="Liberation Sans" font-size="8.6" fill="#111" textLength="11.2" lengthAdjust="spacingAndGlyphs">60</text>
<text x="329.01" y="31.1" font-family="Liberation Sans" font-size="8.6" fill="#111" textLength="11.2" lengthAdjust="spacingAndGlyphs">70</text>
<text x="364.23" y="31.1" font-family="Liberation Sans" font-size="8.6" fill="#111" textLength="11.2" lengthAdjust="spacingAndGlyphs">80</text>
<text x="399.46" y="31.1" font-family="Liberation Sans" font-size="8.6" fill="#111" textLength="11.2" lengthAdjust="spacingAndGlyphs">90</text>
<text x="434.68" y="31.1" font-family="Liberation Sans" font-size="8.6" fill="#111" textLength="11.2" lengthAdjust="spacingAndGlyphs">95</text>
<text x="467.10" y="31.1" font-family="Liberation Sans" font-size="8.6" fill="#111" textLength="16.8" lengthAdjust="spacingAndGlyphs">100</text>
<g clip-path="url(#fc)">
<polygon points="140.9,48.8 400.0,48.8 402.9,56.6 397.1,60.9 390.0,63.7 377.1,65.1 371.4,68.0 370.0,75.1 370.0,82.3 362.9,85.1 360.0,89.4 354.3,95.1 351.4,102.3 348.6,108.0 347.1,112.3 345.7,119.4 340.0,122.3 331.4,120.9 325.7,123.7 320.0,126.6 310.0,126.6 307.1,120.9 302.9,116.6 297.1,120.9 291.4,122.3 295.7,130.9 292.9,138.0 297.1,142.3 295.7,149.4 287.1,153.7 278.6,156.6 272.9,159.4 267.1,160.9 258.6,156.6 251.4,152.3 244.3,149.4 238.6,153.7 230.0,154.5 222.9,156.6 221.4,162.3 215.7,165.1 210.0,168.0 207.1,172.3 198.6,176.6 187.1,179.4 175.7,178.0 174.3,182.3 177.1,188.0 188.6,190.9 200.0,196.0 208.0,198.0 211.0,203.0 216.0,207.0 220.0,211.0 228.0,213.0 235.0,216.0 237.0,220.0 229.0,222.0 228.0,224.0 233.0,225.0 238.0,230.6 242.3,237.7 249.4,236.3 258.0,236.3 260.9,240.6 253.7,244.9 250.9,250.6 252.3,259.1 252.3,263.4 243.7,266.3 235.1,267.7 233.7,272.0 232.3,277.1 140.9,277.1" fill="#ffff00"/>
<polygon points="207.0,171.0 210.0,172.3 215.0,173.5 218.0,176.0 218.6,180.0 215.0,179.5 211.4,178.0 207.0,176.0" fill="#ffff00"/>
<polygon points="244.3,203.7 247.0,201.0 253.0,200.0 263.0,199.0 268.6,200.9 267.1,206.6 274.3,209.4 278.6,213.7 282.9,219.4 280.0,225.1 275.0,228.0 270.9,232.0 265.1,233.4 266.6,227.7 253.7,222.0 251.4,216.6 246.0,212.0 244.3,209.4" fill="#ffff00"/>
<polygon points="253.7,222.0 266.6,227.7 265.1,233.4 270.9,232.0 279.4,229.1 283.7,233.4 280.9,226.3 275.1,222.0" fill="#ffff00"/>
<polygon points="282.9,206.6 292.9,206.6 292.9,209.4 284.0,210.0" fill="#ffff00"/>
<polygon points="140.9,48.8 400.0,48.8 334.3,48.8 332.9,55.1 327.1,60.9 326.0,70.0 321.0,72.0 316.0,75.0 309.0,77.0 303.0,80.0 296.0,81.0 288.0,82.0 287.0,87.0 278.0,91.0 269.0,95.0 263.0,98.0 256.0,113.0 250.0,117.0 245.0,120.0 240.0,123.0 233.0,125.0 227.0,125.0 220.0,123.0 213.0,121.0 206.0,124.0 200.0,125.0 191.4,126.6 182.9,128.0 177.1,132.3 170.0,123.7 164.3,119.4 164.3,115.1 168.6,112.3 168.6,106.6 154.3,103.0 140.9,100.9" fill="#ffd500"/>
<polygon points="320.0,76.6 322.9,75.1 328.6,72.3 328.6,66.6 327.1,60.9 320.0,60.0" fill="#ffd500"/>
<polygon points="140.9,176.6 147.1,179.4 157.1,183.7 168.6,189.4 175.7,196.6 178.6,202.3 175.7,209.4 168.6,215.1 171.4,218.0 177.1,222.3 180.0,227.7 182.9,233.4 187.1,239.1 185.7,244.9 182.9,253.4 180.0,260.6 174.3,257.7 167.1,250.6 158.6,246.3 148.6,246.3 144.3,243.4 140.9,243.4" fill="#ffd500"/>
<polygon points="180.0,208.0 187.0,209.0 187.0,215.0 181.0,215.0" fill="#ffd500"/>
<polygon points="158.6,269.0 164.3,269.5 164.3,273.4 159.0,273.0" fill="#ffd500"/>
<polygon points="249.0,207.0 256.0,205.0 261.0,207.0 260.0,216.0 255.0,215.0 251.4,210.9" fill="#ffd500"/>
<polygon points="229.4,239.1 240.9,241.0 240.9,244.9 230.0,243.0" fill="#ffd500"/>
<polygon points="145.7,48.8 319.0,48.8 313.0,60.0 305.0,62.0 296.0,66.0 290.0,70.0 286.0,74.0 280.0,77.0 271.0,83.0 263.0,85.0 255.7,89.4 244.3,93.7 230.0,93.7 224.3,96.6 218.6,100.9 211.4,103.7 205.7,102.3 197.1,96.6 194.3,90.9 182.9,93.7 174.3,92.3 168.6,86.6 158.6,82.3 151.4,76.6 148.6,72.3 150.0,60.9" fill="#ffb200"/>
<polygon points="203.0,100.0 214.0,100.5 213.0,103.0 204.0,103.0" fill="#ffb200"/>
<polygon points="148.6,193.7 154.3,192.3 162.9,196.6 165.7,203.7 160.0,208.0 151.4,208.0 148.6,203.7 145.7,199.4" fill="#ffb200"/>
<polygon points="168.6,233.4 177.1,234.0 177.1,242.0 169.0,241.0" fill="#ffb200"/>
<polygon points="170.0,48.8 293.0,48.8 289.0,60.0 281.0,64.0 273.0,67.0 263.0,69.0 251.4,72.3 247.1,76.6 235.7,80.9 230.0,78.0 220.0,73.7 211.4,72.3 201.4,71.6 194.3,69.4 188.6,63.7 181.4,60.9 169.3,62.3" fill="#ff8c00"/>
<polygon points="150.0,196.6 157.0,196.0 161.4,200.0 160.0,206.6 152.0,206.0" fill="#ff8c00"/>
<polygon points="210.0,48.8 305.0,48.8 290.0,53.1 275.7,54.6 260.0,57.4 247.1,60.3 235.7,61.7 228.6,62.0 218.6,60.8 212.9,57.4 211.4,51.7" fill="#ff6400"/>
<polygon points="217.0,48.8 248.0,48.8 242.9,50.3 234.3,51.9 228.6,53.3 222.9,50.5" fill="#ff1c00"/>
<polygon points="198.6,78.7 207.1,78.0 210.0,85.1 204.3,86.6 198.6,83.7" fill="#ffd500"/>
<use href="#maplines"/>
</g>
<line x1="140.0" y1="48.8" x2="494.09999999999997" y2="48.8" stroke="#4c4c4c" stroke-width="1.3"/>
<line x1="140.0" y1="277.3" x2="494.09999999999997" y2="277.3" stroke="#3c3c3c" stroke-width="1.3"/>
<line x1="140.9" y1="48.8" x2="140.9" y2="277.1" stroke="#888" stroke-width="1.9"/>
<line x1="493.2" y1="48.8" x2="493.2" y2="277.1" stroke="#888" stroke-width="1.9"/>
<text x="322.18" y="254.4" font-family="Liberation Sans" font-size="10.0" fill="#222" textLength="22.53" lengthAdjust="spacingAndGlyphs">from</text><text x="347.76" y="254.4" font-family="Liberation Sans" font-size="10.0" fill="#222" textLength="18.78" lengthAdjust="spacingAndGlyphs">grib</text><text x="369.59" y="254.4" font-family="Liberation Sans" font-size="10.0" fill="#222" textLength="19.60" lengthAdjust="spacingAndGlyphs">files</text><text x="392.24" y="254.4" font-family="Liberation Sans" font-size="10.0" fill="#222" textLength="42.31" lengthAdjust="spacingAndGlyphs">provided</text><text x="437.60" y="254.4" font-family="Liberation Sans" font-size="10.0" fill="#222" textLength="11.76" lengthAdjust="spacingAndGlyphs">by</text><text x="452.41" y="254.4" font-family="Liberation Sans" font-size="10.0" fill="#222" textLength="36.03" lengthAdjust="spacingAndGlyphs">ECMWF</text>
<text x="380.09" y="273.7" font-family="Liberation Sans" font-size="9.9" fill="#222" textLength="33.53" lengthAdjust="spacingAndGlyphs">©2026</text><text x="416.63" y="273.7" font-family="Liberation Sans" font-size="9.9" fill="#222" textLength="70.64" lengthAdjust="spacingAndGlyphs">sb@irizone.net</text>
</g>
<g transform="translate(0,268.60)">
<text x="15.55" y="23.7" font-family="Liberation Sans" font-size="13.1" fill="#111" textLength="19.20" lengthAdjust="spacingAndGlyphs">IFS</text><text x="38.80" y="23.7" font-family="Liberation Sans" font-size="13.1" fill="#111" textLength="4.60" lengthAdjust="spacingAndGlyphs">-</text><text x="47.46" y="23.7" font-family="Liberation Sans" font-size="13.1" fill="#111" textLength="43.30" lengthAdjust="spacingAndGlyphs">Probas</text><text x="94.82" y="23.7" font-family="Liberation Sans" font-size="13.1" fill="#111" textLength="32.14" lengthAdjust="spacingAndGlyphs">T850</text><text x="135.07" y="23.7" font-family="Liberation Sans" font-size="13.1" fill="#111" textLength="83.00" lengthAdjust="spacingAndGlyphs">standardized</text><text x="222.12" y="23.7" font-family="Liberation Sans" font-size="13.1" fill="#111" textLength="23.71" lengthAdjust="spacingAndGlyphs">ano</text><text x="249.88" y="23.7" font-family="Liberation Sans" font-size="13.1" fill="#111" textLength="10.69" lengthAdjust="spacingAndGlyphs">&lt;</text><text x="264.63" y="23.7" font-family="Liberation Sans" font-size="13.1" fill="#111" textLength="28.99" lengthAdjust="spacingAndGlyphs">than</text><text x="297.67" y="23.7" font-family="Liberation Sans" font-size="13.1" fill="#111" textLength="20.29" lengthAdjust="spacingAndGlyphs">1.5</text><text x="322.01" y="23.7" font-family="Liberation Sans" font-size="13.1" fill="#111" textLength="12.14" lengthAdjust="spacingAndGlyphs">σ,</text><text x="338.21" y="23.7" font-family="Liberation Sans" font-size="13.1" fill="#111" textLength="24.69" lengthAdjust="spacingAndGlyphs">Init:</text><text x="366.96" y="23.7" font-family="Liberation Sans" font-size="13.1" fill="#111" textLength="64.93" lengthAdjust="spacingAndGlyphs">20260119</text><text x="435.94" y="23.7" font-family="Liberation Sans" font-size="13.1" fill="#111" textLength="22.93" lengthAdjust="spacingAndGlyphs">12z</text><text x="462.93" y="23.7" font-family="Liberation Sans" font-size="13.1" fill="#111" textLength="4.60" lengthAdjust="spacingAndGlyphs">-</text><text x="471.59" y="23.7" font-family="Liberation Sans" font-size="13.1" fill="#111" textLength="36.03" lengthAdjust="spacingAndGlyphs">Valid:</text><text x="511.67" y="23.7" font-family="Liberation Sans" font-size="13.1" fill="#111" textLength="85.46" lengthAdjust="spacingAndGlyphs">20260126:00</text><text x="601.19" y="23.7" font-family="Liberation Sans" font-size="13.1" fill="#111" textLength="17.13" lengthAdjust="spacingAndGlyphs">TU</text>
<rect x="158.50" y="36.2" width="35.22" height="7" fill="#ffff00"/>
<rect x="193.72" y="36.2" width="35.22" height="7" fill="#ffd500"/>
<rect x="228.94" y="36.2" width="35.22" height="7" fill="#ffb200"/>
<rect x="264.17" y="36.2" width="35.22" height="7" fill="#ff8c00"/>
<rect x="299.39" y="36.2" width="35.22" height="7" fill="#ff6400"/>
<rect x="334.61" y="36.2" width="35.22" height="7" fill="#ff1c00"/>
<rect x="369.83" y="36.2" width="35.22" height="7" fill="#d70000"/>
<rect x="405.06" y="36.2" width="35.22" height="7" fill="#a00000"/>
<rect x="440.28" y="36.2" width="35.22" height="7" fill="#640000"/>
<line x1="193.72" y1="36.2" x2="193.72" y2="43.2" stroke="#222" stroke-width="0.8"/>
<line x1="228.94" y1="36.2" x2="228.94" y2="43.2" stroke="#222" stroke-width="0.8"/>
<line x1="264.17" y1="36.2" x2="264.17" y2="43.2" stroke="#222" stroke-width="0.8"/>
<line x1="299.39" y1="36.2" x2="299.39" y2="43.2" stroke="#222" stroke-width="0.8"/>
<line x1="334.61" y1="36.2" x2="334.61" y2="43.2" stroke="#222" stroke-width="0.8"/>
<line x1="369.83" y1="36.2" x2="369.83" y2="43.2" stroke="#222" stroke-width="0.8"/>
<line x1="405.06" y1="36.2" x2="405.06" y2="43.2" stroke="#222" stroke-width="0.8"/>
<line x1="440.28" y1="36.2" x2="440.28" y2="43.2" stroke="#222" stroke-width="0.8"/>
<rect x="158.5" y="36.2" width="317.0" height="7" fill="none" stroke="#000" stroke-width="1"/>
<text x="152.90" y="31.1" font-family="Liberation Sans" font-size="8.6" fill="#111" textLength="11.2" lengthAdjust="spacingAndGlyphs">10</text>
<text x="188.12" y="31.1" font-family="Liberation Sans" font-size="8.6" fill="#111" textLength="11.2" lengthAdjust="spacingAndGlyphs">25</text>
<text x="223.34" y="31.1" font-family="Liberation Sans" font-size="8.6" fill="#111" textLength="11.2" lengthAdjust="spacingAndGlyphs">40</text>
<text x="258.57" y="31.1" font-family="Liberation Sans" font-size="8.6" fill="#111" textLength="11.2" lengthAdjust="spacingAndGlyphs">50</text>
<text x="293.79" y="31.1" font-family="Liberation Sans" font-size="8.6" fill="#111" textLength="11.2" lengthAdjust="spacingAndGlyphs">60</text>
<text x="329.01" y="31.1" font-family="Liberation Sans" font-size="8.6" fill="#111" textLength="11.2" lengthAdjust="spacingAndGlyphs">70</text>
<text x="364.23" y="31.1" font-family="Liberation Sans" font-size="8.6" fill="#111" textLength="11.2" lengthAdjust="spacingAndGlyphs">80</text>
<text x="399.46" y="31.1" font-family="Liberation Sans" font-size="8.6" fill="#111" textLength="11.2" lengthAdjust="spacingAndGlyphs">90</text>
<text x="434.68" y="31.1" font-family="Liberation Sans" font-size="8.6" fill="#111" textLength="11.2" lengthAdjust="spacingAndGlyphs">95</text>
<text x="467.10" y="31.1" font-family="Liberation Sans" font-size="8.6" fill="#111" textLength="16.8" lengthAdjust="spacingAndGlyphs">100</text>
<g clip-path="url(#fc)">
<polygon points="140.9,48.8 292.9,48.8 290.0,53.5 281.4,55.0 274.3,60.7 271.4,66.4 261.4,69.3 258.6,75.0 251.4,82.1 244.3,86.4 237.1,92.1 234.3,97.8 230.0,97.8 220.0,99.3 211.4,100.7 202.9,102.1 197.1,106.4 194.3,109.3 182.9,110.7 177.1,112.8 171.4,107.8 168.6,99.3 161.4,96.4 158.6,89.3 154.3,80.7 155.7,76.4 152.9,70.7 151.4,63.5 147.1,60.0 141.4,60.7 140.9,60.7" fill="#ffff00"/>
<polygon points="180.0,70.7 187.1,66.4 200.0,66.4 207.1,72.1 215.7,75.0 217.1,80.7 211.4,82.1 201.4,77.8 187.1,79.3 180.0,76.4" fill="#ffd500"/>
<polygon points="188.6,48.8 200.0,48.8 197.1,55.0 190.0,53.5" fill="#ffd500"/>
<polygon points="208.6,52.1 225.7,52.1 230.0,50.7 247.1,50.7 251.4,55.0 248.6,62.1 238.6,67.8 230.0,72.1 220.0,72.1 211.4,67.8 208.6,60.7" fill="#ffd500"/>
<use href="#maplines"/>
</g>
<line x1="140.0" y1="48.8" x2="494.09999999999997" y2="48.8" stroke="#4c4c4c" stroke-width="1.3"/>
<line x1="140.0" y1="277.3" x2="494.09999999999997" y2="277.3" stroke="#3c3c3c" stroke-width="1.3"/>
<line x1="140.9" y1="48.8" x2="140.9" y2="277.1" stroke="#888" stroke-width="1.9"/>
<line x1="493.2" y1="48.8" x2="493.2" y2="277.1" stroke="#888" stroke-width="1.9"/>
<text x="322.18" y="254.4" font-family="Liberation Sans" font-size="10.0" fill="#222" textLength="22.53" lengthAdjust="spacingAndGlyphs">from</text><text x="347.76" y="254.4" font-family="Liberation Sans" font-size="10.0" fill="#222" textLength="18.78" lengthAdjust="spacingAndGlyphs">grib</text><text x="369.59" y="254.4" font-family="Liberation Sans" font-size="10.0" fill="#222" textLength="19.60" lengthAdjust="spacingAndGlyphs">files</text><text x="392.24" y="254.4" font-family="Liberation Sans" font-size="10.0" fill="#222" textLength="42.31" lengthAdjust="spacingAndGlyphs">provided</text><text x="437.60" y="254.4" font-family="Liberation Sans" font-size="10.0" fill="#222" textLength="11.76" lengthAdjust="spacingAndGlyphs">by</text><text x="452.41" y="254.4" font-family="Liberation Sans" font-size="10.0" fill="#222" textLength="36.03" lengthAdjust="spacingAndGlyphs">ECMWF</text>
<text x="380.09" y="273.7" font-family="Liberation Sans" font-size="9.9" fill="#222" textLength="33.53" lengthAdjust="spacingAndGlyphs">©2026</text><text x="416.63" y="273.7" font-family="Liberation Sans" font-size="9.9" fill="#222" textLength="70.64" lengthAdjust="spacingAndGlyphs">sb@irizone.net</text>
</g>
<g transform="translate(0,537.20)">
<text x="21.55" y="23.7" font-family="Liberation Sans" font-size="13.1" fill="#111" textLength="19.20" lengthAdjust="spacingAndGlyphs">IFS</text><text x="44.80" y="23.7" font-family="Liberation Sans" font-size="13.1" fill="#111" textLength="4.60" lengthAdjust="spacingAndGlyphs">-</text><text x="53.46" y="23.7" font-family="Liberation Sans" font-size="13.1" fill="#111" textLength="43.30" lengthAdjust="spacingAndGlyphs">Probas</text><text x="100.82" y="23.7" font-family="Liberation Sans" font-size="13.1" fill="#111" textLength="32.14" lengthAdjust="spacingAndGlyphs">T850</text><text x="141.07" y="23.7" font-family="Liberation Sans" font-size="13.1" fill="#111" textLength="83.00" lengthAdjust="spacingAndGlyphs">standardized</text><text x="228.12" y="23.7" font-family="Liberation Sans" font-size="13.1" fill="#111" textLength="23.71" lengthAdjust="spacingAndGlyphs">ano</text><text x="255.88" y="23.7" font-family="Liberation Sans" font-size="13.1" fill="#111" textLength="10.69" lengthAdjust="spacingAndGlyphs">&lt;</text><text x="270.63" y="23.7" font-family="Liberation Sans" font-size="13.1" fill="#111" textLength="28.99" lengthAdjust="spacingAndGlyphs">than</text><text x="303.67" y="23.7" font-family="Liberation Sans" font-size="13.1" fill="#111" textLength="8.12" lengthAdjust="spacingAndGlyphs">2</text><text x="315.84" y="23.7" font-family="Liberation Sans" font-size="13.1" fill="#111" textLength="12.14" lengthAdjust="spacingAndGlyphs">σ,</text><text x="332.04" y="23.7" font-family="Liberation Sans" font-size="13.1" fill="#111" textLength="24.69" lengthAdjust="spacingAndGlyphs">Init:</text><text x="360.79" y="23.7" font-family="Liberation Sans" font-size="13.1" fill="#111" textLength="64.93" lengthAdjust="spacingAndGlyphs">20260119</text><text x="429.77" y="23.7" font-family="Liberation Sans" font-size="13.1" fill="#111" textLength="22.93" lengthAdjust="spacingAndGlyphs">12z</text><text x="456.76" y="23.7" font-family="Liberation Sans" font-size="13.1" fill="#111" textLength="4.60" lengthAdjust="spacingAndGlyphs">-</text><text x="465.41" y="23.7" font-family="Liberation Sans" font-size="13.1" fill="#111" textLength="36.03" lengthAdjust="spacingAndGlyphs">Valid:</text><text x="505.50" y="23.7" font-family="Liberation Sans" font-size="13.1" fill="#111" textLength="85.46" lengthAdjust="spacingAndGlyphs">20260126:00</text><text x="595.01" y="23.7" font-family="Liberation Sans" font-size="13.1" fill="#111" textLength="17.13" lengthAdjust="spacingAndGlyphs">TU</text>
<rect x="158.50" y="36.2" width="35.22" height="7" fill="#ffff00"/>
<rect x="193.72" y="36.2" width="35.22" height="7" fill="#ffd500"/>
<rect x="228.94" y="36.2" width="35.22" height="7" fill="#ffb200"/>
<rect x="264.17" y="36.2" width="35.22" height="7" fill="#ff8c00"/>
<rect x="299.39" y="36.2" width="35.22" height="7" fill="#ff6400"/>
<rect x="334.61" y="36.2" width="35.22" height="7" fill="#ff1c00"/>
<rect x="369.83" y="36.2" width="35.22" height="7" fill="#d70000"/>
<rect x="405.06" y="36.2" width="35.22" height="7" fill="#a00000"/>
<rect x="440.28" y="36.2" width="35.22" height="7" fill="#640000"/>
<line x1="193.72" y1="36.2" x2="193.72" y2="43.2" stroke="#222" stroke-width="0.8"/>
<line x1="228.94" y1="36.2" x2="228.94" y2="43.2" stroke="#222" stroke-width="0.8"/>
<line x1="264.17" y1="36.2" x2="264.17" y2="43.2" stroke="#222" stroke-width="0.8"/>
<line x1="299.39" y1="36.2" x2="299.39" y2="43.2" stroke="#222" stroke-width="0.8"/>
<line x1="334.61" y1="36.2" x2="334.61" y2="43.2" stroke="#222" stroke-width="0.8"/>
<line x1="369.83" y1="36.2" x2="369.83" y2="43.2" stroke="#222" stroke-width="0.8"/>
<line x1="405.06" y1="36.2" x2="405.06" y2="43.2" stroke="#222" stroke-width="0.8"/>
<line x1="440.28" y1="36.2" x2="440.28" y2="43.2" stroke="#222" stroke-width="0.8"/>
<rect x="158.5" y="36.2" width="317.0" height="7" fill="none" stroke="#000" stroke-width="1"/>
<text x="152.90" y="31.1" font-family="Liberation Sans" font-size="8.6" fill="#111" textLength="11.2" lengthAdjust="spacingAndGlyphs">10</text>
<text x="188.12" y="31.1" font-family="Liberation Sans" font-size="8.6" fill="#111" textLength="11.2" lengthAdjust="spacingAndGlyphs">25</text>
<text x="223.34" y="31.1" font-family="Liberation Sans" font-size="8.6" fill="#111" textLength="11.2" lengthAdjust="spacingAndGlyphs">40</text>
<text x="258.57" y="31.1" font-family="Liberation Sans" font-size="8.6" fill="#111" textLength="11.2" lengthAdjust="spacingAndGlyphs">50</text>
<text x="293.79" y="31.1" font-family="Liberation Sans" font-size="8.6" fill="#111" textLength="11.2" lengthAdjust="spacingAndGlyphs">60</text>
<text x="329.01" y="31.1" font-family="Liberation Sans" font-size="8.6" fill="#111" textLength="11.2" lengthAdjust="spacingAndGlyphs">70</text>
<text x="364.23" y="31.1" font-family="Liberation Sans" font-size="8.6" fill="#111" textLength="11.2" lengthAdjust="spacingAndGlyphs">80</text>
<text x="399.46" y="31.1" font-family="Liberation Sans" font-size="8.6" fill="#111" textLength="11.2" lengthAdjust="spacingAndGlyphs">90</text>
<text x="434.68" y="31.1" font-family="Liberation Sans" font-size="8.6" fill="#111" textLength="11.2" lengthAdjust="spacingAndGlyphs">95</text>
<text x="467.10" y="31.1" font-family="Liberation Sans" font-size="8.6" fill="#111" textLength="16.8" lengthAdjust="spacingAndGlyphs">100</text>
<g clip-path="url(#fc)">
<use href="#maplines"/>
</g>
<line x1="140.0" y1="48.8" x2="494.09999999999997" y2="48.8" stroke="#4c4c4c" stroke-width="1.3"/>
<line x1="140.0" y1="277.3" x2="494.09999999999997" y2="277.3" stroke="#3c3c3c" stroke-width="1.3"/>
<line x1="140.9" y1="48.8" x2="140.9" y2="277.1" stroke="#888" stroke-width="1.9"/>
<line x1="493.2" y1="48.8" x2="493.2" y2="277.1" stroke="#888" stroke-width="1.9"/>
<text x="322.18" y="254.4" font-family="Liberation Sans" font-size="10.0" fill="#222" textLength="22.53" lengthAdjust="spacingAndGlyphs">from</text><text x="347.76" y="254.4" font-family="Liberation Sans" font-size="10.0" fill="#222" textLength="18.78" lengthAdjust="spacingAndGlyphs">grib</text><text x="369.59" y="254.4" font-family="Liberation Sans" font-size="10.0" fill="#222" textLength="19.60" lengthAdjust="spacingAndGlyphs">files</text><text x="392.24" y="254.4" font-family="Liberation Sans" font-size="10.0" fill="#222" textLength="42.31" lengthAdjust="spacingAndGlyphs">provided</text><text x="437.60" y="254.4" font-family="Liberation Sans" font-size="10.0" fill="#222" textLength="11.76" lengthAdjust="spacingAndGlyphs">by</text><text x="452.41" y="254.4" font-family="Liberation Sans" font-size="10.0" fill="#222" textLength="36.03" lengthAdjust="spacingAndGlyphs">ECMWF</text>
<text x="380.09" y="273.7" font-family="Liberation Sans" font-size="9.9" fill="#222" textLength="33.53" lengthAdjust="spacingAndGlyphs">©2026</text><text x="416.63" y="273.7" font-family="Liberation Sans" font-size="9.9" fill="#222" textLength="70.64" lengthAdjust="spacingAndGlyphs">sb@irizone.net</text>
</g>
</svg></body></html>
